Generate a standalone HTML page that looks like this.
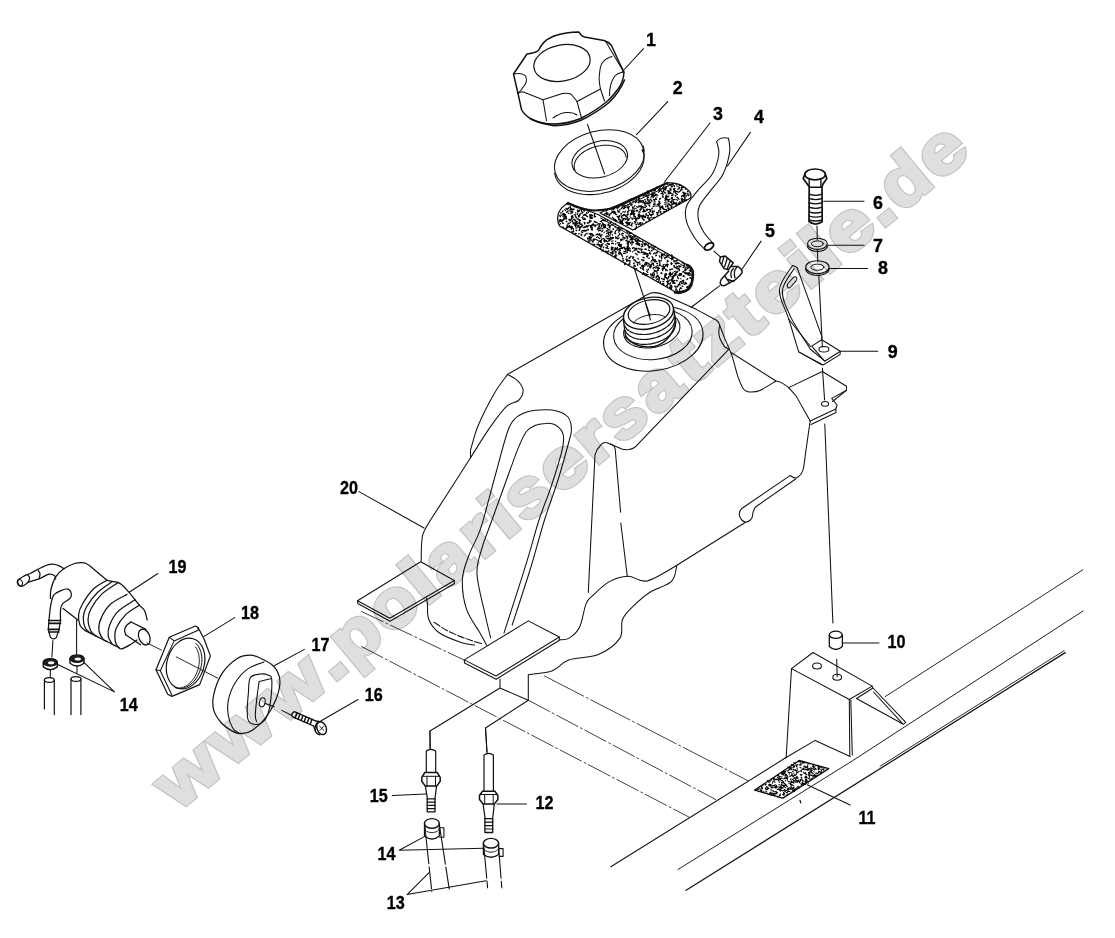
<!DOCTYPE html>
<html><head><meta charset="utf-8"><title>Fuel tank parts diagram</title>
<style>
html,body{margin:0;padding:0;background:#fff;}
body{width:1115px;height:938px;overflow:hidden;font-family:"Liberation Sans",sans-serif;}
svg{display:block;}
svg text{font-family:"Liberation Sans",sans-serif;font-weight:bold;}
</style></head><body>
<svg width="1115" height="938" viewBox="0 0 1115 938">
<rect width="1115" height="938" fill="#fff"/>
<g fill="none" stroke="#111" stroke-width="1.05" stroke-linecap="round" stroke-linejoin="round">
<path d="M361.5,611.5 L464,660" stroke-dasharray="24 3 2 3" stroke-width="0.8"/>
<path d="M361.5,646.5 L688.8,817" stroke-dasharray="24 3 2 3" stroke-width="0.8"/>
<path d="M528.3,700.2 L715.7,799.5" stroke-dasharray="24 3 2 3" stroke-width="0.8"/>
<path d="M544.5,676 L748,780.7" stroke-dasharray="44 3 2 3" stroke-width="0.8"/>
<path d="M500,679 L500,688 L430,731 L430,749 M528.3,674.5 L528.3,700.2 L485.5,728 L487,753 M500,688 L528.3,700.2"/>
<path d="M610.8,866.8 L785.6,757.8 L815.2,740.4 L850.2,756.5"/>
<path d="M885.2,696.6 L1083,569.7" stroke-width="0.9"/>
<path d="M678,869.5 L852.9,760.5 L1083,611" stroke-width="0.95"/>
<path d="M686.1,890.3 L1065.2,652.6" stroke-width="1.25"/>
<path d="M880,766.3 L1064.2,650.6" stroke-width="0.9"/>
<path d="M791.5,668.6 L813,652.5 L872.2,686.1 L849.3,699.5 Z" fill="#fff"/>
<path d="M791.5,668.6 L786.1,758.2 M849.3,699.5 L849.8,756 M850.8,700 L852.3,755"/>
<path d="M856.5,698.5 L873,688 L905.8,722.4 L903.3,724.3 Z M873,688 L872.2,686.1 M873.5,692 L903.3,724.3"/>
<ellipse cx="817" cy="665.9" rx="4.4" ry="3" />
<ellipse cx="837.2" cy="677.2" rx="4.4" ry="3" />
<path d="M836.7,659.2 L837.2,676.7"/>
<path d="M829.3,635 L829.3,646.5 Q835.8,652.5 842.4,646.5 L842.4,635" stroke-width="1.3"/>
<ellipse cx="835.8" cy="634.8" rx="6.5" ry="3.6" stroke-width="1.3"/>
<path d="M824.8,424 L832.9,623"/>
<path d="M842.6,643 H878.9"/>
<path d="M754.7,790.1 L799.1,760.5 L828.7,768.6 L782.9,798.2Z" stroke-width="1.4"/>
<path d="M788.2,781.6l1.2,-0.1M792.3,782.6l-0.9,0M761.4,791l0.5,-1.1M803.1,783.7l-1,-1.2M787.3,792.3l0.1,0.3M791.7,785.5l-0.1,-0.5M811.4,775.6l1,-0.3M812.3,770.7l-1.2,-0.4M813.7,767.2l0.2,-0.1M768.8,788.1l-1,0.3M777.2,793.9l-0.8,-0.3M811.9,772.9l-0.6,-1M772.7,783.2l-0.4,-0.1M772.3,787.1l-0.7,0.8M798.8,771.6l-0.9,0.5M800.2,771.1l1.2,-0.7M797,765.5l-0.4,0.9M805.9,782.5l-1,-1.1M790.4,788l-0.5,1.2M780.7,786.3l1.1,0.9M785.6,790.3l1,0.2M800.9,774.9l0.2,0.3M808.6,775.1l0.7,0.2M787.3,792.1l-1.2,0.6M790.3,769.2l0.6,-0M777,786.1l-0.8,-0.8M787.4,794.1l-0.5,0.4M797.8,772.4l-1,-0M788,770.9l-0.8,-0.2M801,779.1l-0.5,0.8M807.1,782l-0.5,0.7M816.1,769.5l-1,-1.1M801.3,777.3l0.4,0.4M805.4,768l-0.1,-0.8M807.5,767.3l-0.6,-0.4M806.3,780.1l0.3,0.6M783.8,790.4l1.1,-1M782.6,781.9l1.1,0.7M802.9,768.2l0.6,0.8M770.5,794.4l1.3,1.1M794.4,790.3l-0.5,1M818,773.6l-1.2,-0.1M795.4,789.5l-0,-1.1M813.9,767l-0.5,0.7M792.9,787.8l1,0.5M771.1,780.4l-0.6,0.5M802,780.2l1,0.1M777.8,774.9l1,1M770.1,792.6l1.3,0.1M797.1,768.1l0.1,0M799.5,761.5l1.3,0M784.3,790.7l0.2,-0M805.8,763l0.1,-0.2M774.6,778.3l-1,-0.2M790,772.5l-0.9,0.3M805.5,772.6l-0.4,0.3M762.5,788.1l-1.1,0M793.9,777l-0.3,-0.2M793.9,766.5l-0.8,0.3M801.9,780.5l1,0.3M818.1,769.3l0.7,0.7M821.5,772.4l-0.5,1M772.4,787.9l-0.7,-1M816.3,776.4l0.8,-0.9M784.5,786.3l-1.4,-0.7M792.1,789.1l0,0.4M795.5,779.9l0.2,-0.8M788.9,789.3l-0.5,-0.1M792.8,776.7l0.3,-1.2M809.4,775.8l-0.9,-0.8M801.3,775.8l0.3,0M773.8,794.9l0.7,0.7M815,775.8l1.1,0.9M811.3,775.8l0.6,-1M780,778.2l-1.4,-0.3M802,784l-0.8,1.1M804,773.2l0.4,0.2M794.1,775.2l1.4,0.3M773.3,794.6l0.1,0M799.9,762.7l1.2,-0.2M793.7,783l-0.4,-0.5M803.2,781.6l-0.6,0.5M766.3,789l-0.3,1M786.5,778.5l1.3,-0.6M808.2,778.2l1.3,0.8M799.4,764.8l0.3,-0.1M793.8,765.2l-0.2,0.4M788.4,770.4l0.2,-0.2M809,769.5l-1.1,0.9M805.4,781.8l0.3,0.3M810.4,767.7l-0.7,1.2M800.8,764.4l0.1,-1M761.1,786l0.1,0.3M782.3,778.5l-0.8,-0.4M811.6,768.5l-0.2,-0.6M814.6,774.4l0.4,1.2M778.8,781.2l0.7,1M786.3,774.4l-1.1,0.9M796.5,778.8l0.5,-0.5M770.5,785.5l-1.2,-0.5M781.2,787.9l-0.4,-0.9M807.2,782l1.2,1.1M814.1,772l-0.5,-0.2M781.8,774.2l-0.3,-0.3M769.1,781.8l0.8,0.1M767.8,789.1l1.1,-0.5M795,781.9l1.3,0.4M795.2,790.2l-1.2,-1M765.3,788.6l0.4,-0.6M771,789.4l0.1,0.6M783.9,773.2l1.3,0.4M791.2,780.8l0.6,0.5M793.5,787.3l0.8,-0.2M763.2,784.9l0.8,-0.8M772.1,787.5l0.3,-0.7M767.5,789.1l-0.5,0.1M774,794l1.2,-0.4M790.4,768.8l-1.3,1.1M814,775l0.1,0M803.4,769.5l-1.4,-0.1M782.2,790.5l0.6,0.3M774.4,780.7l-1,0.6M807.7,764.2l-0.1,-0.1M818.1,771.9l0.8,-0.2M815.8,768.4l0.1,0.1M766.4,791.9l-0.5,-0.5M789.3,787.5l-0.4,0.4M807.2,769.5l0.2,-0.1M813.9,768.3l0.3,-0.5M782.5,780.8l-0.6,-0.4M783.7,785.6l-0.7,-0.7M808.8,772.9l1.2,0.2M808.3,773l0.9,-1M792.6,784.9l0.7,0.8M783.3,773l-0.2,-1.2M784.4,786.9l1.3,0.7M803.6,783.4l-1.3,-0.4M780,785l-1.1,-0.3M792.4,790.2l0.9,0.3M766.4,789.4l1.1,0.1M780.8,779.4l-1,0.5M801.1,768l-1.2,-0.6M797.4,786.8l-0.5,1M781.4,778l-1.1,1.1M794.9,781.6l0.2,-0.6M763.8,791.6l-0.6,1M772.5,782.1l0.9,-0.8M795.2,763.4l-1.3,-0.8M803.4,772.1l0.5,0.6M782.9,782.8l0.9,-1.2M796.8,767l0.1,-0.6M796.7,773l0.4,-1.1M804.4,766l1.3,0.2M789.5,776l0.3,0.5M785,776.9l0.2,1M793.6,780.3l-0.2,1M810.3,772l0.3,-1M791.9,775.5l-1.3,0.5M793.6,769.5l-0.5,-0.3M785.9,790.9l-0.8,0.6M762,790.4l-1.1,0.1M784.1,773.9l0.2,-1.1M777.5,779.3l1.2,1.1M789.7,768.3l-0.6,1M821.1,767.9l0.9,-0.4M789.7,767l1.1,1.2M769.6,784.3l-0.9,0.9M808.4,772.3l1.1,0.9M807.5,765.6l0.5,1.1M807.3,767.9l-0.9,-0.6M782.3,785.5l1.1,0.2M775.2,784.6l-1.1,1.2M787.3,780.4l0.1,-1.1M799.1,771.2l-0.7,0.7M810.6,769.8l-0.6,0.1M788.9,788.8l-0.3,1M791.7,767.3l0.2,0.3M781.3,785.3l0.8,0M805.3,780.1l1.3,-0.8M812.4,766.7l0.3,-0.6M787.3,789.6l0.8,0.7M772.2,778.9l-0.8,0.2M798.9,787.4l0.2,0.9M786.9,777.2l-0.7,0.7M796.8,781l0.8,-0.6M800.7,780.3l-0.7,0.2M761.2,791.4l-0.9,-0.6M766.5,786.5l0.9,0.7M790.9,789.2l1.4,-0.9M788.4,788.6l-1.3,-0.6M783.8,771.7l-0.2,-1M795.5,769.6l-0.1,1M781.6,773.2l1.3,0.3M802.8,762.7l-0.4,0.5M783.8,792.3l-0.3,0.7M768.3,781.2l-0.9,-0.7M777.5,777.4l1.4,0.4M818.5,768.2l-0.3,-1M805.9,774.2l-0.6,-1.2M783.8,795.3l0.6,-0.6M778.5,775l-1.2,0.9M778.8,789.6l0.1,-1.1M798.8,761.7l-0.5,-0.2M795,765.6l0.6,-0.6M775.4,787.4l-0.3,-0.3M818.8,769l-0.6,-0.4M770.7,786.5l0.5,1.1M819,769.3l0.4,-1M786.4,775.3l-1.2,-0.3M779,779.2l-0.6,-0.8M784.5,778.4l-0.9,0.4M780,776.4l-1,0.2M806.6,781.4l0.6,-1.1M783.7,774.2l-1.2,-0.2M798.1,778.2l-0.5,-0.6M774.1,785.7l-0.9,-0.1M781.5,782.2l1.2,0.7M801.1,783.9l-0.2,-0.2M775.1,791.8l1.1,-0.3M805,769.3l-1.4,0.1M791.2,785l0.1,0.3M780.4,793.9l-0.5,0.5M766.5,783.9l-0,0.2M792.7,765.3l-1.2,-1M762.3,787.1l-1.1,-0.1M811.8,778.6l-0.9,0.9M773.5,779.6l0.8,-0.3M807.7,770l0.6,-0.4M779.4,789.1l1,0.8M796.7,776.4l0.6,0.3M804.2,769.2l-0.9,-1.2M805.6,776.3l0.4,-0.2M775.9,788.1l1.4,-0.9M794.8,778.7l-0.4,-0.5M806.1,781.1l0.8,-0.8M823.8,770l-0,-0.9M796.6,765.9l0.4,-0.5M820.8,772.2l-1.2,-0.8M769.7,793.2l-0,-0.2M814.4,775.4l-1.2,0.1M803.3,784l-0.6,1.1M787.5,791.9l0.6,-0.8M781.3,788.9l-0.5,0M793.7,791l0.8,0.6M784.2,790.8l0.9,0.6M806.9,769.9l1.1,-1.1M797.4,769.1l-0.3,-0.3M781.7,784.6l-0.4,-0.5M821.7,772.6l-1.1,-0.4M809.6,768.5l0.7,0.1M805,767.2l-1.1,-0.9M780.6,776.7l-1.4,0M784.5,772.6l0.1,1.1M769.8,793.7l-0.5,0.6M806.9,767.2l-0.6,0.4M801.7,774.8l0.4,-0.7M792.1,781.9l-1.1,0.8M805.7,777.6l0.5,-0.2M799.1,782.1l0,-1.1M801.1,777.3l0.3,0.2M809.3,772.3l0.7,1.2M784.5,793.2l-1,1.2M791,769.3l1,0.4M773.3,790.9l-0.1,0.1M818.8,767.9l-0.6,0.3M772.6,790.7l1,0.6M813.7,766.2l-0.4,-1M783.5,792.5l0.3,1M770,784.2l1.1,0.5M769.3,785.7l-0.2,-1.2M801.3,771l0.3,0.5M806,778.1l-1,-0.9M809.2,774.1l-0.5,-0.2M765.5,784.3l-0.2,0.8M785,777.7l0,1.1M780.3,787l-0.7,0.2M775.8,793.4l-0.6,0.9M804.8,777.7l1.2,-0.3M785.7,771.1l-0.2,1.1M776.4,786.7l0.5,-0.6M821,770l-0.2,-0.4M798.4,781.1l-1.1,1M782.4,787.8l0.5,-0.4M789.4,774.1l-0.1,-0.4M804.3,783.3l1.3,1.1M784.4,785.2l-0.8,1.2M809.6,763.6l-0.9,0.4M773.5,791.1l0.6,0.7M794.4,780.6l-1.1,0.7M777,779.6l-1.1,0.2M792.6,771.6l0.8,-0.6M796,777.8l1,-0.9M817.6,766.3l1.3,0.1M784.8,783.6l1,1.1M766.1,791.4l0.7,0.5M779,778.9l0.4,0.9M783.9,771.8l0.7,-0.6M781.9,776.7l-0.1,-0.3M786.6,777.5l-1.3,0.8M795.2,775.6l-0.8,-1M782.2,772.4l-0,-0.6M810.2,778.9l-1.4,-0.2M781.8,783l-0.4,-0.5M799.8,782.7l-0.5,-0M792.9,788.9l-1.3,-1M813.6,776.5l1,-0.2M775.8,786.1l-1.2,1.2M816.2,772.9l-0.5,0.8M758.9,789.3l-1.3,0.3M802,761.3l1.2,0.6M809.2,776.3l0.5,1.2M812.5,777.1l0.7,-0.3M787.8,777l-1.1,-0.4M763.3,791.9l0.5,0.1M777.6,796.5l0.2,1M786.7,774.7l0.5,1M791.2,786.5l-0.3,0.7M762.5,788.5l-0.9,0.2M798.5,780.1l-0.3,0.2M817,774l0.2,-0M806.3,769.3l-0.7,0.6M797.2,770.2l-1.2,0.8M782.6,787.5l-0.2,0.3M790.7,769.2l0.7,-1M777.4,792.4l-1.3,0.5M796.7,781.3l-0.5,-0.8M812.7,768.7l-0.8,0.1M799.8,765.1l0.7,0.2M805.7,774.2l1.3,0.5M776.2,792.8l0.6,-0.6M794.5,770.1l-0.6,-0.6M775.2,779.7l1,-0.8M799.8,781l0.7,0.1M812.1,770.3l-1.2,1M781.5,790.2l-0.7,-0.1M782.1,788l1.2,0M796.6,773.6l-0.7,1.1M803.3,763.2l1.1,-1M796.5,765l1.4,-0.5M804,763.1l-1.3,0.2M793.7,767.5l0.1,-0.3M791.6,767.9l0.6,-0.2M790.7,781.5l1.3,0.1M779.5,787l1.2,1.1M798.4,786.4l0.3,0.3M793.2,782.4l0.7,0.7M816.4,775.9l-0.5,-0.4M755.8,789.5l-0.7,0.2M793.6,773.1l0.5,-0.1M772,793.7l-0.9,-0.8M773.5,778.6l0.8,-0.4M772.3,785.2l-0.7,0.1M773.6,793.6l-0.9,-0.6M760.5,789.3l-0.7,-0.7M782.1,773.9l1.2,1.2M779.7,790.3l-0.3,-0.5M789.9,791.4l-1.4,-0M769.9,793.6l1.3,1M780,795.6l-1,0.5M824.7,767.8l-1,0.4M774.9,795.9l-1.2,-0.8M794.7,781.9l0.7,0.1M777.6,789.2l1.2,0M796.8,771.6l0.8,1.1M788.7,783.2l1,-0.1M811.1,775.6l-1.3,-0.8M767.5,788.3l-0.8,-1.2M771,790.6l-0,0.4M789.1,767.4l-1.4,-0.5M800.5,774.4l-0.1,0.3M785.6,780.9l-0.1,-0.4M822.3,769.3l1.2,0.8M820,766.6l0,1.2M808.2,769.4l0.2,-0.8M761.9,786.4l-0.4,0.1M792.8,774.8l-1.4,-0M774.6,782.1l0.4,-0.1M790.4,784.7l1.3,-0.5M813.9,769.3l0.9,0.7M773.5,794.5l0,-0.2M791,778.7l-0.6,0.8M791.9,773.4l-0.8,-0.7M814,767.1l0.9,-0.5M772.8,795.2l-1.3,0M780.1,790.3l0.3,1M819.2,772.2l-0.9,0.5M800.8,765.2l0.6,-1.1M802,779l-0.3,-0.4M813.6,769.1l0.4,0.7M806.1,779.9l-0.5,-0.5M768.6,784.9l0.5,1.1M779.2,795.5l1.2,-0.5M793.4,778.9l-1.3,0.9M794.3,778.3l0.7,-0.6M769.4,782.4l-0.7,-0.4M781,780.4l1.3,0.3M785.4,775.8l-0.7,-0.1M786.7,786.3l0.7,0.1M821.5,770l0.1,1.2M793.8,767.6l0.7,-1.1M774.9,787.6l0.6,-0.4M806.9,777.7l-0.2,-0.9M806.1,777l-1,-0.2M797.1,788.6l-0.3,0.4M805.1,783.7l-1.3,0.5M790.7,782.7l-0.5,1.2M771,793.1l0,-0.2M784.2,793.9l-0.7,0.7M807.1,777.4l-0.4,-0.2M788.2,772.4l0.3,-0.2M777.2,789.6l-0.1,-0.1M782.5,794.4l1.3,0.7M784.4,785.8l0.7,-0.5M786.9,785.1l-0.8,0.6M780,787.3l-1.4,-0.2M811.4,770.3l0.3,-0.7M783.7,782.8l0.6,0.6M773.3,787.1l0.2,0.1M812.5,772.7l0.6,1.1M775,781.9l0.1,-0" stroke-width="1.05" stroke="#000"/>
<path d="M807.2,784.7 L850.2,804.9"/>
<path d="M800,800.5 l0.8,2.4" stroke-width="1.3"/>
<path d="M507.6,374.4 L636,297 L645,292.5 L655,293 L681,301.5 L716,317.7 L721.5,326 L727,347 L735,371.5 L743,386 L754,390.5 L775,381 L788.7,387.6 L822.3,371.5 L846.5,386.3 L846.5,390.3 L831.7,398.4 L837.1,405 L835.8,409 L810.2,421 L803.5,468 L797,477.5 L745.5,522.2 L676.9,565.3 L671.5,581.4 L650,592.2 L633.8,605.6 L622.5,619.5 L619.8,638.4 L598.3,654.5 L568.7,659.9 L552.5,670.7 L528.3,674.7 L496,676 L464.3,659.9 L474.5,645.1 L461,642.4 L439.5,633 L428.8,619.5 L427.4,603.4 L389.8,618.2 L357.5,600.7 L420.7,561.7 L421.5,541.8 L425.6,528.3 L470.5,450.3 L478,426 L494,394Z" fill="#fff" stroke="none"/>
<path d="M507.6,374.4 L640,299 Q646,294.8 651,293 Q657,291.8 663.2,294.4 L696.7,309.6 L716.5,320.3 Q719,322 719.6,325"/>
<path d="M719.6,325 C720.4,327 722.2,332 724.2,337.1 C726.2,342.2 729.5,348.8 731.8,355.4 C734.1,362 736.1,371.4 737.9,376.7 C739.7,382 741.1,385 742.5,387.4 C743.9,389.8 744.7,390.2 746,391 C747.3,391.8 747.8,392.1 750.1,392 C752.4,391.9 755.7,392.2 760,390.4 C764.3,388.6 773.3,382.6 776,381"/>
<path d="M719.6,325 C719.5,326.2 718.8,329.8 718.8,332 C718.8,334.2 718.9,335.6 719.8,338 C720.7,340.4 722.7,344.3 724.2,346.2 C725.7,348.1 728,348.8 728.7,349.3"/>
<path d="M731.5,352.8 L776,381 Q782,382 788.7,387.6"/>
<path d="M788.7,387.6 C789.9,389 793.8,392.9 796,396 C798.2,399.1 799.6,402.3 802,406.5 C804.4,410.7 808.8,418.6 810.2,421"/>
<path d="M810.2,421 C810,422.7 809.4,426.2 808.7,431 C808,435.8 806.9,443.8 806,450 C805.1,456.2 804.3,464 803.5,468 C802.7,472 802.2,472.3 801,474 C799.8,475.7 797.8,477.7 796,478 C794.2,478.3 791,476 790,475.6"/>
<path d="M788.7,387.6 L822.3,371.5 L846.5,386.3 L846.5,390.3 L831.7,398.4 L837.1,405 L835.8,409 L810.2,421"/>
<path d="M846.5,390.3 L832.5,401.5 M835.8,409 L836,412.5 L811,424.5"/>
<ellipse cx="825" cy="403.8" rx="3.6" ry="2.4" />
<path d="M728.7,349.3 L638,444.1 Q634.5,448.5 629,449.6 Q625,450 621.9,449 L607.1,442.8 Q603,441.5 600.4,445.5 Q596.5,449 595,454.9 L588.3,592.4"/>
<path d="M610.5,444 Q614.5,445 615.2,449 L620.6,512.2 M620.8,523 L627.3,576.5"/>
<path d="M507.6,374.4 C505.3,377.7 498.9,385.4 494,394 C489.1,402.6 481.9,416.6 478,426 C474.1,435.4 471.8,446.2 470.5,450.3"/>
<path d="M507.6,374.4 C508.7,375 512,376.6 514,378 C516,379.4 518.2,380.8 519.7,383 C521.2,385.2 523.4,388.1 523.2,391 C523,393.9 521.2,397.9 518.4,400.5 C515.6,403.1 511,402.2 506.3,406.7 C501.6,411.2 496,418.9 490,427.4 C484,435.9 473.8,452.7 470.5,457.8 L470.5,450.3"/>
<path d="M470.5,457.8 C466.8,463.7 455.5,481.2 448,493 C440.5,504.8 430,520.2 425.6,528.3 C421.2,536.4 422.5,536.3 421.8,541.8 C421.1,547.2 421.3,557.8 421.2,561"/>
<path d="M486.6,645.1 C485.5,643.1 483.4,639 480,633 C476.6,627 469.3,617.8 466.4,608.8 C463.5,599.8 462,588.2 462.4,579.2 C462.8,570.2 465.9,563.5 469,555 C472.1,546.5 476.5,540.8 480.7,528.3 C484.9,515.8 489.5,496.1 494,480 C498.5,463.9 504,441.8 507.6,431.5 C511.2,421.2 512.5,421.2 515.7,418 C518.9,414.8 523,413.3 527,412 C531,410.7 535.7,410.3 539.9,410 C544.1,409.7 548.4,409.6 552,410 C555.6,410.4 558.7,411.4 561.4,412.6 C564.1,413.8 566.4,415.2 568,417 C569.6,418.8 570.2,421.1 570.8,423.4 C571.3,425.7 571.5,428.3 571.3,431 C571.1,433.7 571.7,431.3 569.5,439.5 C567.3,447.7 562.2,466.6 558,480 C553.8,493.4 549.2,505 544.5,520 C539.8,535 535.4,552.5 530,570 C524.6,587.5 515.2,615.8 512.2,625"/>
<path d="M490.7,638 C489.8,634 487.3,624.7 485,614 C482.7,603.3 477.5,585 477,574 C476.5,563 479.5,557 482,548 C484.5,539 488.2,530.7 492,520 C495.8,509.3 500.6,496.1 505,484 C509.4,471.9 514.8,456.4 518.4,447.6 C522,438.9 523.6,435.2 526.4,431.5 C529.2,427.8 531.9,426.9 535,425.5 C538.1,424.1 542.3,423.6 545.3,423.4 C548.3,423.1 550.8,423.3 553,424 C555.2,424.7 557.1,426 558.7,427.4 C560.3,428.8 561.7,430.5 562.5,432.5 C563.3,434.5 563.8,436.1 563.6,439.5 C563.4,442.9 563.5,445.1 561.4,453 C559.3,460.9 554.7,475.8 551,487 C547.3,498.2 543.2,506.9 539,520 C534.8,533.1 531.4,546.9 525.6,565.7 C519.8,584.5 507.6,621.8 504,633"/>
<path d="M426.5,598 C426.6,598.9 427,599.8 427.4,603.4 C427.8,607 426.8,614.6 428.8,619.5 C430.8,624.4 434.1,629.2 439.5,633 C444.9,636.8 455.2,640.4 461,642.4 C466.8,644.4 472.2,644.6 474.5,645.1"/>
<path d="M434.2,622.2 C436.2,623.5 442,627.8 446,630 C450,632.2 454.4,634 458.4,635.7 C462.4,637.4 466,638.6 470,640 C474,641.4 480.5,643.2 482.6,643.8" stroke-dasharray="7 2"/>
<path d="M559.3,639.7 C560.9,639.5 565.4,640.4 568.7,638.4 C572.1,636.4 576.5,633.4 579.4,627.6 C582.3,621.8 583.9,608.8 586.2,603.4 C588.5,598 589.2,598.9 593,595.3 C596.8,591.7 603.2,585.1 609,581.9 C614.8,578.7 621.6,576.5 628,576.3 C634.4,576.1 639.1,582.7 647.3,580.9 C655.4,579.1 672,567.9 676.9,565.3 L745.5,522.2"/>
<path d="M528.3,674.7 C532.3,674 545.8,673.2 552.5,670.7 C559.2,668.2 561.1,662.6 568.7,659.9 C576.3,657.2 589.8,658.1 598.3,654.5 C606.8,650.9 615.8,644.2 619.8,638.4 C623.8,632.6 620.2,625 622.5,619.5 C624.8,614 629.2,610.1 633.8,605.6 C638.4,601.1 643.7,596.2 650,592.2 C656.3,588.2 667,585.9 671.5,581.4 C676,576.9 676,568 676.9,565.3"/>
<path d="M790,475.6 L741.4,508.8 Q738.3,512 739.8,516.5 Q741.5,521 745.5,522.2 Q750.5,521.5 752.3,517 Q752.5,511 755.5,507 L796,478.8"/>
<ellipse cx="653.3" cy="338.6" rx="50.1" ry="32" transform="rotate(-8.7 653.3 338.6)" fill="#fff"/>
<ellipse cx="652.9" cy="334" rx="39.4" ry="25.5" transform="rotate(-5 652.9 334)" />
<ellipse cx="651.8" cy="330" rx="28.5" ry="17.5" transform="rotate(-11 651.8 330)" fill="#fff"/>
<path d="M623.3,319 L625.6,337 Q636,349 654,346.5 Q670,343 676,322 L673.3,307.5" fill="#fff" stroke-width="1.3"/>
<path d="M674.2,312.9 C674.2,313.2 674.4,314.2 674.4,314.8 C674.3,315.5 674.3,316.1 674.1,316.8 C674,317.5 673.7,318.2 673.5,318.8 C673.2,319.5 672.8,320.2 672.4,320.9 C672,321.5 671.6,322.2 671,322.9 C670.5,323.5 669.9,324.1 669.3,324.8 C668.6,325.4 667.9,326 667.2,326.6 C666.5,327.2 665.7,327.7 664.8,328.3 C664,328.8 663.1,329.3 662.2,329.8 C661.3,330.3 660.4,330.7 659.4,331.1 C658.4,331.6 657.4,331.9 656.4,332.3 C655.4,332.6 654.4,332.9 653.3,333.2 C652.3,333.5 651.2,333.7 650.2,333.9 C649.1,334.1 648,334.2 647,334.3 C645.9,334.4 644.9,334.5 643.8,334.5 C642.8,334.5 641.8,334.5 640.8,334.4 C639.8,334.4 638.8,334.3 637.9,334.1 C636.9,334 636,333.8 635.1,333.5 C634.3,333.3 633.4,333 632.6,332.7 C631.8,332.4 631.1,332 630.4,331.7 C629.7,331.3 629,330.9 628.4,330.4 C627.8,330 627.3,329.5 626.8,329 C626.3,328.4 625.9,327.9 625.6,327.3 C625.2,326.8 624.8,325.9 624.7,325.6" stroke-width="1.2"/>
<path d="M674.8,317.8 C674.8,318.1 674.9,319.1 674.9,319.8 C674.9,320.4 674.8,321.1 674.7,321.8 C674.5,322.4 674.3,323.1 674,323.8 C673.7,324.5 673.4,325.2 673,325.8 C672.6,326.5 672.1,327.2 671.6,327.8 C671,328.5 670.4,329.1 669.8,329.7 C669.2,330.3 668.5,330.9 667.7,331.5 C667,332.1 666.2,332.7 665.4,333.2 C664.5,333.7 663.7,334.3 662.8,334.7 C661.9,335.2 660.9,335.7 659.9,336.1 C659,336.5 658,336.9 657,337.2 C655.9,337.6 654.9,337.9 653.9,338.1 C652.8,338.4 651.8,338.6 650.7,338.8 C649.6,339 648.6,339.2 647.5,339.3 C646.5,339.4 645.4,339.4 644.4,339.5 C643.4,339.5 642.3,339.5 641.3,339.4 C640.3,339.3 639.4,339.2 638.4,339.1 C637.5,338.9 636.5,338.7 635.7,338.5 C634.8,338.2 634,338 633.2,337.7 C632.4,337.3 631.6,337 630.9,336.6 C630.2,336.2 629.6,335.8 629,335.4 C628.4,334.9 627.8,334.4 627.4,333.9 C626.9,333.4 626.5,332.9 626.1,332.3 C625.8,331.7 625.4,330.8 625.2,330.5" stroke-width="1.2"/>
<path d="M675.3,322.8 C675.3,323.1 675.5,324.1 675.4,324.7 C675.4,325.4 675.3,326 675.2,326.7 C675,327.4 674.8,328.1 674.5,328.7 C674.3,329.4 673.9,330.1 673.5,330.8 C673.1,331.4 672.6,332.1 672.1,332.8 C671.6,333.4 671,334 670.3,334.7 C669.7,335.3 669,335.9 668.3,336.5 C667.5,337.1 666.7,337.6 665.9,338.2 C665.1,338.7 664.2,339.2 663.3,339.7 C662.4,340.2 661.4,340.6 660.5,341 C659.5,341.5 658.5,341.8 657.5,342.2 C656.5,342.5 655.4,342.8 654.4,343.1 C653.4,343.4 652.3,343.6 651.2,343.8 C650.2,344 649.1,344.1 648.1,344.2 C647,344.3 646,344.4 644.9,344.4 C643.9,344.4 642.9,344.4 641.9,344.3 C640.9,344.3 639.9,344.2 639,344 C638,343.9 637.1,343.7 636.2,343.4 C635.3,343.2 634.5,342.9 633.7,342.6 C632.9,342.3 632.2,341.9 631.5,341.6 C630.8,341.2 630.1,340.8 629.5,340.3 C628.9,339.9 628.4,339.4 627.9,338.9 C627.4,338.3 627,337.8 626.6,337.2 C626.3,336.7 625.9,335.8 625.8,335.5" stroke-width="1.2"/>
<ellipse cx="648.5" cy="313.3" rx="25.5" ry="15.4" transform="rotate(-13.8 648.5 313.3)" fill="#fff" stroke-width="1.4"/>
<ellipse cx="649" cy="312" rx="21.2" ry="11.8" transform="rotate(-12.6 649 312)" stroke-width="1.2"/>
<path d="M633.5,323.4 C633.6,323.3 633.7,322.9 633.9,322.6 C634.1,322.3 634.3,322 634.5,321.8 C634.7,321.5 635,321.2 635.3,320.9 C635.6,320.7 635.9,320.4 636.2,320.1 C636.5,319.9 636.9,319.6 637.3,319.3 C637.7,319.1 638.1,318.8 638.5,318.6 C638.9,318.3 639.4,318.1 639.9,317.9 C640.3,317.7 640.8,317.4 641.3,317.2 C641.8,317 642.4,316.8 642.9,316.6 C643.4,316.4 644,316.3 644.5,316.1 C645.1,315.9 645.7,315.8 646.2,315.6 C646.8,315.5 647.4,315.4 648,315.2 C648.6,315.1 649.1,315 649.7,314.9 C650.3,314.9 650.9,314.8 651.5,314.7 C652.1,314.7 652.7,314.6 653.3,314.6 C653.8,314.6 654.4,314.5 655,314.5 C655.5,314.5 656.1,314.6 656.6,314.6 C657.2,314.6 657.7,314.7 658.2,314.7 C658.7,314.8 659.2,314.8 659.7,314.9 C660.2,315 660.7,315.1 661.1,315.2 C661.5,315.3 662,315.5 662.4,315.6 C662.8,315.8 663.1,315.9 663.5,316.1 C663.8,316.2 664.2,316.4 664.5,316.6 C664.8,316.8 665.2,317.1 665.3,317.2" stroke-width="1"/>
<path d="M645.5,303 L650.5,320"/>
<path d="M420.7,561.7 L454.3,580.5 L389.8,618.2 L357.5,600.7 Z" fill="#fff"/>
<path d="M357.5,600.7 L357.8,603.5 L390,621.3 L454.5,583.5 L454.3,580.5"/>
<path d="M528.3,620.9 L559.3,637 L496,676 L464.3,659.9 Z" fill="#fff"/>
<path d="M464.3,659.9 L464.5,663 L496.2,679.2 L559.5,640.2 L559.3,637"/>
<path d="M359,491.6 L424,528"/>
<path d="M513.5,74 L527,54 Q534,53.5 538.5,50.5 Q543,41 550,38 L554,36 Q566,32 579,32 Q581,36 584.5,37 L604,40.5 Q609,42 611.5,45.5 L619.5,63 L624,72 Q623.5,82 618,89 Q612,97 607.5,101 Q595,111.5 580.5,118.5 Q567,124 554,124 Q541,124 532,119.5 Q524,115 521.5,109.5 L518,93.5 Z" fill="#fff" stroke-width="1.45"/>
<ellipse cx="562" cy="63" rx="28.5" ry="18" transform="rotate(-11 562 63)" stroke-width="1.2"/>
<path d="M513.5,74 Q522,72.5 525.5,76 Q528,81 524,86 Q521,90.5 518,93.5"/>
<path d="M518,93.5 Q520,91.5 523.5,92 L543,99.8 L562.5,93.5 Q568,92.5 571.5,94.5 L577,101.5 L600.5,89"/>
<path d="M600.5,89 Q598.5,80 599.5,74 Q600,66 602.5,62.5 Q606,58 612,56.5"/>
<path d="M624,72 Q616,73 613.5,78 Q609.5,85 609.5,95.5"/>
<path d="M543,99.8 L546.5,120.5 M577,101.5 L581.5,118 M600.5,89 L604.5,101"/>
<path d="M553,118 Q560,113 566,112.5 Q573,112 577,115"/>
<path d="M530,118.5 Q541,124 554,125.6 Q568,125.6 581.5,120 Q597,112.5 609,102.5 Q619,93 624.5,80" stroke-width="1.6"/>
<path d="M606,42 L622.5,70"/>
<path d="M587.5,124.5 L604.6,174"/>
<ellipse cx="599.3" cy="160.6" rx="45.7" ry="29.5" transform="rotate(-15 599.3 160.6)" fill="none"/>
<path d="M642.6,149.5 C642.8,150.2 643.5,152.1 643.8,153.4 C644,154.8 644.1,156.2 644.1,157.5 C644.1,158.9 643.9,160.3 643.6,161.8 C643.2,163.2 642.8,164.6 642.2,166 C641.6,167.4 640.8,168.9 640,170.2 C639.1,171.6 638.1,173 637,174.3 C635.9,175.7 634.7,177 633.3,178.2 C632,179.5 630.5,180.7 629,181.8 C627.4,183 625.8,184.1 624.1,185.1 C622.4,186.1 620.5,187.1 618.7,188 C616.8,188.9 614.9,189.7 612.9,190.4 C611,191.1 609,191.8 606.9,192.3 C604.9,192.8 602.8,193.3 600.8,193.7 C598.7,194 596.6,194.3 594.6,194.4 C592.6,194.6 590.5,194.7 588.5,194.6 C586.5,194.6 584.5,194.5 582.6,194.3 C580.7,194 578.8,193.7 577.1,193.3 C575.3,192.9 573.5,192.4 571.9,191.8 C570.3,191.2 568.7,190.5 567.3,189.7 C565.9,188.9 564.5,188.1 563.3,187.2 C562.1,186.2 560.9,185.2 560,184.2 C559,183.1 558.1,182 557.4,180.8 C556.7,179.6 556.1,178.3 555.6,177.1 C555.1,175.8 554.8,173.8 554.7,173.1"/>
<ellipse cx="599.8" cy="159.3" rx="28.3" ry="17.9" transform="rotate(-14 599.8 159.3)" />
<path d="M574.9,170.1 C574.8,169.7 574.4,168.6 574.3,167.9 C574.2,167.2 574.2,166.4 574.2,165.6 C574.2,164.9 574.4,164.1 574.6,163.3 C574.8,162.5 575.1,161.7 575.5,160.9 C575.8,160.1 576.3,159.4 576.8,158.6 C577.3,157.8 577.9,157.1 578.6,156.3 C579.2,155.6 580,154.9 580.8,154.2 C581.6,153.5 582.4,152.8 583.3,152.2 C584.3,151.6 585.2,151 586.2,150.4 C587.2,149.8 588.3,149.3 589.4,148.8 C590.5,148.4 591.6,147.9 592.8,147.5 C593.9,147.1 595.1,146.8 596.3,146.5 C597.4,146.2 598.6,145.9 599.8,145.8 C601,145.6 602.2,145.4 603.4,145.3 C604.6,145.3 605.8,145.2 606.9,145.2 C608.1,145.3 609.2,145.3 610.3,145.5 C611.4,145.6 612.5,145.8 613.5,146 C614.6,146.3 615.6,146.6 616.5,146.9 C617.4,147.2 618.3,147.6 619.1,148 C620,148.5 620.7,149 621.4,149.5 C622.1,150 622.7,150.6 623.3,151.1 C623.8,151.7 624.3,152.4 624.7,153 C625.1,153.7 625.4,154.4 625.7,155.1 C625.9,155.8 626.1,156.9 626.2,157.3"/>
<path d="M642,150 l1.6,3.2 M643.3,146 l1,5"/>
<path d="M600,213 L667,183 Q680,181.5 689,191 Q692,195 690.5,198 L633,230 Z" fill="#fff" stroke-width="1.3"/>
<path d="M621.6,208.6l-0.4,0.2M676,205.4l0.4,-0.8M647.5,217.8l0.5,-1M635.9,220.6l-0.2,1M679.8,187.6l-1,-0.7M656.9,197.1l0,-0.3M631.9,210.5l0.2,1M661,190.7l1,1.1M664.8,192.9l0.9,0.2M626.7,219.1l1,-1.1M665.2,198.6l1.1,1.2M655.4,190.3l-1.3,0.9M681.4,200.8l-0.1,0M658.5,211l0.2,0.3M639.2,216.9l-0.7,-0.5M637.7,210.3l-1.3,0.3M657,204.9l0.5,-0.4M622.8,204.4l0.3,-0.4M633.5,211l-0.6,-0.3M670.1,184.3l0.2,0.6M673,194.2l-0.9,-0.2M663.4,187.8l-0.5,-0.4M675.7,203.6l1,-0.8M630.6,213.6l1.1,-0.1M648.1,192l0.9,0.8M673.2,199.2l-1,-0.5M672.1,195.7l-0.4,-0.2M638.1,202.2l1.2,-0.8M684.2,193.4l0.7,0.8M660.2,207.4l-0.6,-0.4M653.5,196.5l0.9,-1.1M660.2,207.7l-0.2,1.1M655.6,199l-0.7,0.9M643.3,219.8l-0.4,-0.7M615.6,220.2l1.2,0.7M624.4,207.8l-0.2,-0.1M631.9,213.4l0.2,-0.3M611.2,209.1l0.6,-0.3M633.9,211.4l0.8,-0.3M639.2,200.5l-0,0.5M638.2,215.6l-0.1,-0.6M648.7,215.7l-1.2,-0.2M638.7,224.3l1.2,-0.3M623.8,204.8l-1.1,0.8M666.6,209.5l-1.1,0.2M670.3,185.1l-1.1,-1M679.9,191.4l-1.3,0.8M672.5,184.7l0.7,0M664.9,188l0.7,1M622.7,212l0.7,-0.3M633.4,201.6l-0.4,-0.2M667.9,190.5l0.5,0.6M661.2,207.3l-0,0.3M681.5,190l-1.1,0.6M640.2,216.8l-0.9,-0.6M618.1,210.5l-0.5,-0.6M626.9,216.2l-0.2,0.8M653.1,195.6l-0.8,-1.1M643.5,201l-0.9,-0.3M629.2,219.4l-1,1.2M643.5,211.2l-0.1,0.8M643.7,216.9l1,-0.2M621.3,216.7l0.5,1.1M677.5,194.4l-0.9,-0.6M617,216.1l1,1M623.2,223.7l-0.5,-0.2M666.2,187l-1.1,0.8M652.7,214.7l-1.4,-0.4M639.6,205.8l-0.8,0.2M624.9,214.3l-1.1,0.9M682.5,187.6l1.2,-0.3M626.8,214.8l0.4,0.7M624.1,218.4l1.3,0.4M644.8,199.6l0.6,0.4M651.4,191.6l0.4,0.3M659.5,188.8l1.2,-0.9M630.1,216.9l0.3,0.1M658.8,204.5l-0.5,-0.8M668.5,208.5l0.7,-0.3M679.2,185l0,-0.6M669.8,199.6l-0.5,-0.2M649.2,219.3l-0.4,0.8M637.8,217.9l0.9,0.6M653.7,189.9l-0.3,-0.7M647.9,209.7l-0.8,-0.6M671,184.4l0.8,0.9M650.2,210.4l0.4,1.1M662.3,197.1l1,-0M654.6,217.2l-1.4,0.6M660.1,206.1l0.1,-0.1M617.6,207.9l-1.3,0M658.7,203.9l0.2,1.1M681,189.4l0.8,0.3M629.3,223.9l0.5,-0.9M667.2,199.1l0.9,1M678.2,203.5l0.7,-0M663.5,208.3l-0.2,0.4M627.7,204.8l0.7,-0.2M665.3,200.2l-0.4,0.1M654.2,193.5l-1.4,-0.7M671.1,189.7l-0.1,-0.7M640.7,202.2l0.6,-1.1M636.6,201.6l-1.3,1.1M656.5,199.3l-1.1,-1.1M666.1,195.9l0.8,-0.1M684.7,197.1l-0.7,-0.6M604.9,213.8l1.1,-0.7M627.7,211.5l1.3,-1M626.6,222.9l-1.1,-0.3M630.3,215l1.2,-0.8M683.9,200.1l-0.2,-0.6M670.8,205.6l-0.6,-0.8M665.4,211.5l0.6,-0.3M642.4,218.6l0.5,-1M621.5,222.7l0.4,0.9M630.3,200.4l-1.2,-0.2M607.3,213.5l-0.7,-1.1M613.9,213.3l0.2,-1.2M620,209.4l-0.2,0.7M648.6,191.8l-0.9,-1M675,188.3l-1.3,1.1M620.2,222l0.3,0.3M631.4,211.3l-0.2,-0.9M674,192.7l0.1,-0.1M666.1,186.6l-0.4,-0M666.8,202.9l0.4,0.3M648.6,202.7l1.3,1M670.2,202.1l1.4,1M665.6,196.8l0.1,0.3M625.1,203.3l-0.4,0.6M667.8,196.5l-1.1,-0.5M613.9,218.8l0.6,1.1M628.3,204.8l0.1,0.1M632.7,223.1l-0.6,-0.1M673.2,183.5l-1,0.1M669.9,204.9l1.3,0.7M639.3,198.9l-1.3,0.1M622.4,220.7l-0.2,-0.6M657,214.7l1.2,0.7M646.2,222.1l0.1,-0.5M637.6,207.4l-0.9,-0.8M649.7,202.2l-0.4,-0.1M672.9,204.3l1.3,-0.8M628.6,207.5l-0.2,0.8M652.2,208.8l-0,-0.5M609.3,214.4l-0.4,0M658.4,192.2l1.2,-0.8M634.8,221.9l-0.5,-0.5M628.8,201.4l-0.6,-0.9M647.8,217.9l0.9,0.3M643.8,195.6l0.1,-1.1M661.3,213.4l-1,-1.1M669,191.3l-0.9,0.8M679.4,185.3l1.3,0.1M632,226l-1.2,-0.7M689,194.6l-0.4,1.1M644,216.1l-0.5,-1.1M631.4,218.2l0.8,0.2M642.1,208.3l-0.2,0.1M675.6,192.4l0.3,1M677,191.4l1.3,0.8M679.2,188.4l-1.4,0.9M662.2,207.7l0.7,-1M649.1,203.7l-1,0.2M629.3,206.8l-0.4,-0.4M632.5,211.2l1.3,1M645.5,217.4l-0.4,0.3M641.1,205.5l0.1,0.9M640.1,212l-1.2,-0.2M639.1,223.8l0.6,-0.3M627.3,206.8l-0.3,-0.3M653.1,189.9l-0.8,-0.3M655.8,189.6l-1.2,-0.4M648.5,217.7l0.9,0.8M662,188.7l1.1,-0.3M675.6,191.6l-0.6,-0.3M646.5,203.3l0.4,0.4M643.6,202.8l1.1,0.8M630.1,202.7l0.2,0.9M608,213.1l-1.3,1M647.6,210l-1.2,-0.6M642.6,223.3l0.1,-0.5M648,192.5l-0.6,1M612.1,208l0.3,-0.3M639.3,197.7l-0.9,0.9M619.6,221.7l1.2,-0.9M683,201.7l-0.8,-0.8M634.9,223l0.9,-1.1M636.4,201.3l-0.9,-0.6M623.9,215.6l-0.4,-0.9M651.3,194.5l0.6,-0.7M660.9,211.6l-0.9,0.6M635.8,208.4l0.3,0.3M644.5,210.2l-0.6,1M662.3,193.4l0.9,1.2M665.1,198.9l0.7,0.2M640.6,206.2l0.2,0.8M669.1,209l-0.6,0.9M667.9,196.7l-1.4,0.4M666.7,199.5l-0.1,0.2M622.7,215.8l0.2,-0.3M610,209l-0.5,0.5M618.3,206.7l-0.9,-1M687.4,191.7l0.2,0M608.9,216.1l0.7,-0.7M629.7,218.8l-0.9,0.4M624.5,206.9l-0.4,0.9M667.6,206.7l0.5,-0.2M673,195.1l0.1,0.2M615.4,213.1l-0.8,0.6M650.5,218l1.2,-0.7M667.1,205.8l0.7,-0.8M649.4,214.4l0.3,-0.8M612.4,212.4l1.1,-0.9M671.3,201.4l-0.1,1.2M655.5,195.4l0.6,-1.2M625.6,215.8l-0.9,-1.1M647.1,198.4l1.3,-1M672.8,201.3l0.9,-0.1M660.6,198.4l-0.8,-0.1M672.7,199.2l-0.8,-0.2M652,208.6l0.3,-0.5M651.7,195.5l0.7,0.2M647.4,203l-0.5,-1M672.1,206.5l-1.1,1M652.8,212.3l-0.2,-0.9M643.6,194.6l1.2,-0.2M604.4,214.7l-0.5,-0.1M612.1,212.4l-1.2,1.1M667.6,208l0.8,0M661.2,207.1l1.3,-1.2M606.2,214.8l1.2,-0.2M664.6,209.3l-0.3,-0.1M627.8,217.7l-0.7,-0.1M653.1,211.7l-0.7,-0.8M645.5,195l1.1,0.2M630.9,203.3l-1.3,0.6M668.2,200.1l0.6,-0.5M617.9,211.5l0.4,0.5M643.4,200.8l0,-0.2M683.1,192.1l1.1,0.7M681.7,188.7l0.3,1.1M626.6,223.2l1.1,-0.2M675.3,202.8l-0.5,-0.1M684.3,194.9l-1.3,1.1M628.8,201.1l1.3,-0.5M685.1,193.8l1.1,-0.4M649.2,209.3l-0.3,0M627.1,222.4l1.2,0.6M674.4,186.3l-0.7,-0.7M682.1,195.5l-0.6,1.1M628.3,214.2l-1.1,1M636.2,199.2l0.4,0.2M679.1,199.2l-0.9,-0.4M649.3,202.1l-0.5,-0.5M644.2,219.6l-0.2,0.6M643.5,201l0,0.8M634.1,200l-0.4,-1.2M649.5,205.5l-0,-0.1M642.9,216.6l-0.9,1.2M615.9,220.4l-0.7,-1M668.6,204.2l0.7,0.7M675.4,196.2l0.5,-1.1M619.1,216.6l-1.3,0M685.1,193.1l0.6,0.6M617.4,208.2l1.3,-0.7M676.9,203.9l0.1,0.4M612.4,217.3l0.8,0.9M639.8,201.3l0.1,0.5M654,202l1.3,-0.2M631.9,211.2l-0.4,1.1M659,204.5l0.4,0.2M656.1,206.3l0.1,-0M675.5,192l0.8,-0.5M677.1,186.4l-0,-0.1M664.6,192.5l-0.7,-0.9M651,210.1l-1.4,-0.8M641.3,209.6l-0.6,0.4M671.7,198l-0.6,0.3M653.1,206.3l1,0M650.2,200.1l0.1,-0.4M621.7,216.4l0.4,-1.1M668.2,193.8l1.4,-0.9M652.6,190l-0.2,0.5M663.4,212l1.3,-0.6M616.4,220.5l-1.1,0.6M636,224.2l0.7,0.4M676.7,185l-0.7,-0.3M639,214.5l1.1,0.6M632.4,206.9l0.7,0.8M633.6,199.7l0.3,-0.7M658.9,205.8l-0.9,0.2M669,201.4l-0.8,0.4M619.1,218.6l0.2,0.8M634.3,209.4l-0.2,0.3M646.9,196.4l1.3,0.9M668.9,196.1l-0.9,0.6M619.4,216.9l0.1,-0.3M653.5,204.1l0.4,0.6M659.7,210.2l1,-1.1M653,197.6l0.3,-0.9M647.7,195.1l1.2,0.7M642.9,218.5l-0.3,0.1M638.3,224.7l0.3,-0.4M673.9,199.7l1.1,-0.2M670,188.4l0.1,0.9M653.6,199.4l0.7,0.8M652.6,212.5l-0.5,-0.2M620.5,220.3l-0.8,-0.8M669.5,190.9l1.3,-0.1M618.8,219.9l-0.2,-0.7M650.9,197.2l0.9,-0.7M631.8,224.6l0,-0.8M621.5,213.3l-0.6,0.9M615.6,212.5l-1.3,-0.9M663.3,209.2l-0.2,-1.1M687,195.6l-1,0.7M637.1,211.3l-1.1,-0.6M638,218l-1.2,1M621.5,221.5l0.9,1.1M642.7,215.8l-0.6,0.8M685.5,197.9l-1.2,-0.6M614.2,208.7l-0.8,0.6M629.1,210.2l0.1,0.3M662.5,193l0.5,1.1M635.3,228.2l0.3,1.1M647.8,218.4l0.5,-0.7M647,210.3l-0.1,0.4M673.8,189.7l0.6,0.3M633.8,216.2l0.3,-0.2M639.8,209.4l1.4,0.1M671.8,197.3l0.6,0.3M655.4,195.2l-0.1,-1M621,222.4l0.6,0.9M634.4,206.3l0.6,-0.5M666.9,210.5l-0.6,0.7M606.7,210.8l-0.9,-1.1M643.4,207.4l0.3,-0.3M663.6,191.3l-0.4,0.4M632,213.7l1.3,0.7M657,212.4l-0.5,0.3M658.9,210.6l-0,0.6M618.6,216.5l1.3,-1.1M677.1,197.2l1.2,1M613.8,218.6l-1.1,-1M640.5,208.9l-0.2,1.1M630.9,205.4l1,-0.6M628.7,224.9l0.9,-0.3M679.3,203.8l-0.4,-0.8M611.9,209.1l0.3,0M645.6,201.7l-0.9,0.8M681.9,198.6l-0.6,0.7M664.2,192.2l0.5,0.2M643.8,209.6l-0.5,-0.7M682.8,200.2l-1.1,1.1M646.4,214.8l-0.5,-0.8M630.2,222.2l-0.6,1M627.6,225.2l-0.9,-0.1M647.4,200.2l0.1,-0.7M681.6,186.8l-0.2,0.9M651.9,195l1.4,-0.9M639.9,223.4l-0.6,-0.5M672.5,186.6l-1.4,0.4M613.1,211.3l1,-0.1M624.8,212.3l0.6,-1.1M645.9,195.9l0.4,-0.6M682.2,199.5l-0.8,-1M680.1,202.6l-0.2,1.1M645.9,195.1l-0.4,-0.7M621.9,218.2l0.3,-0.1M642.8,211.8l0.5,-1.1M676.6,204.7l-0.4,1.1M668.7,199.5l-1.3,-0.2M639.9,200.6l-1.1,0.2M623.1,218.8l0.1,-0.5M675,204l-1.2,-0.5M659.2,190.3l-0.7,-0.7M633.8,213l-1.3,-0M638.6,214.1l0.9,-0.2M654.7,195.8l-0.1,0.3M622.6,221.7l-0.4,-0.7M625.8,207.5l-0.3,-0.4M645.8,211.2l-1.2,0.2M685.2,189.2l0.5,-0.4M650.5,214.8l0.4,0.9M677.7,197.3l-0.8,0.1M653.5,199.6l1,0.8M662.4,208.2l0.5,-0.7M673.3,189l1.1,0.3M654.5,204.8l0.6,-1M679.5,203.2l-0.2,0.6M655.1,203.9l-0.6,-0.1M675,188.6l-1.2,0.8M633.9,207.9l0.2,0.5M628.9,219.2l-1.4,0.8M628.1,212.4l-0.5,0.6M634.2,211.3l-0.5,0.8M670.5,192.5l0.7,1.1M684.4,195.4l0.8,-0.5M671.5,206.9l-0.1,-0.9M653.6,195.9l-0.7,-1M632.5,207.3l0.3,1.1M657.4,213.9l0.9,-1.2M682,198.6l0.4,-0.2M667.7,197.2l-0.6,-0.6M665.8,204.4l-1,-0.3M651.6,200.5l0.3,0.8M627.5,223.9l1.2,0.1M665.8,206.9l0.1,-0.9M618.7,211.7l1,0.4M679.7,201.8l0.7,0.7M634.1,218.5l-0.3,-0.7M668.3,185l-1.2,-0.4M618.9,217.4l-0.9,0.2M650,199.4l1,-0.2M646.5,214.3l-0.3,-0.8M649.5,206.3l0.3,-0.5M681.7,187.6l1.3,-0.3M649.3,219.8l0.9,0.8M626.2,221.9l1.3,0.2M659.1,203l1.2,0.3M663.5,190.1l0.1,0.5M624,206.6l1.3,-1M666.4,198.3l0.6,0.8M673.4,184.9l0.5,0.7M684.7,198.8l-0.1,0.9M642.7,206.9l-1.2,-0.7M614.4,208.2l0.1,-1M657.6,187.8l-0.3,-1.1M685.4,200l0.9,-0.1M629.7,222.5l-0.6,0M663.9,185.4l-0.1,1.1M677.6,200.3l-1,-0.6M668.7,191.5l1.1,-0.6M622,207.4l0.4,-0.6M648.3,212.5l1.3,-0.5M615.8,206.8l0.3,-0M682.9,192.5l0,-0.1M641.1,200.6l0.8,1.2M688,193.3l-0.4,1.1M645.9,203.4l-1.1,0.9M632,204.2l0.1,0.7M627.6,207.1l0.1,0.8M636.7,224.5l-0.9,0.3M656.7,187.8l-0.1,0.2M635.2,218.5l1,-0.5M654.1,210.8l0.2,0.6M662.7,195.7l0.4,0.5M628.6,208.9l0.2,0.2M616.7,214.4l-1.1,0.1M641,215.7l1,1.2M642.9,206.7l-1.3,0.9M648.4,199.9l0.7,1M684.6,200.6l0.5,0.6M665.8,201.8l-0.9,0.6M659.6,199.5l0.5,-1M612.8,211.7l-0.9,-0.7M639.9,200.5l-0.7,0.4M657.7,195.1l-0.9,-0M668.8,203.8l0.7,0.4M634.3,216.7l0.7,-0.5M654.3,204.1l0.7,0.9M632.7,219.4l-0.4,-0.4M638.7,215.9l-0.5,0.1M642.7,202.8l0.2,-0.1M666.4,188l-0.9,-1.1M637.5,222.9l0.3,0.3M648.8,193.8l0.3,-1M635.5,216.9l-0.7,-0.8M668,192.1l1.1,0.3M644.4,195.1l-1.2,1.1M666.5,195.2l-0.6,0.4M661.8,193.6l-0.7,0M659.7,190.1l0.2,0.2M671.9,204.4l0.6,-0.6M609.9,214.1l-0.7,1M645,216.9l0.8,-0.9M674.4,203.4l-1.3,-1.1M633.9,214.9l0.9,-1.2M639.9,211.5l-1.1,0.7M659.9,202l-1.3,-0.8M636.5,226.3l-0.1,0.9M672.2,200.3l-0.5,0.4M640.6,224.3l0.5,0.8M638.8,201.6l-0.1,1.2M642.7,216.3l-0.6,-0.6M646.4,206.3l-1.4,-1M634,216.3l-0.3,-1.2M669.4,193.7l1.3,-0.5M644.6,207.2l0.8,0.4M684.2,194.7l-0.7,-0.8M653.4,213.8l-0.5,-0.6M664.6,188.6l-0.7,0.6M664.5,189.4l1.4,0.5M665,198.1l1.3,-0.1M675.8,191.3l-1,-0.7M649.3,205.4l-0.4,-0M639.7,217.1l-0.2,0.9M668.1,191.1l-0.2,0.8M632.4,209.9l-0.8,0.8M630.3,200l0.9,-1M635.6,219.2l1.1,1M672.2,186.5l-0.4,-0.1M625.3,219.7l0.5,-0.6M631.1,204.1l-0.9,-1.2M623.1,220l0.7,-0.2M623.2,208.6l1.1,0M673.7,191.5l0.4,-0.7M667.8,200.7l0.5,0.1M607.5,209.8l0.4,-1.1M640.6,223.4l0.6,-0.5M640.5,222.7l-0,0M665.5,190l-0.1,0M651.5,215.6l-0.6,-0.1M650.8,202.3l-0.4,-0.1M686.1,200.2l-0.8,0.4M638,207l1.4,-0.3M666.7,196l0.5,1M625.9,216.7l1.2,-0.1M613.6,208.1l-0.4,-1.1" stroke-width="1.25" stroke="#000"/>
<path d="M568,203 Q559.5,208 558,215 Q557,222 559.5,226 L678,293.5 Q688,292.5 691,286 Q694,278 693,272 Q692,267 688.5,265.5 L598,214.5 Z" fill="#fff" stroke-width="1.3"/>
<path d="M630.5,236.1l-1.2,0M567.7,211.2l-0.2,0.8M575,223.2l0.4,1.1M636,238.9l1.3,-1.1M577.7,213.6l-0.5,0.8M566.3,221.6l0.5,-0.2M619.3,230.1l0.8,0.5M661.3,254.8l1.1,-0.4M652,256.7l0.2,-0.1M671.4,288.4l-0.1,0.4M580.9,213.6l-1.2,0.6M575.7,225.4l-0.3,0.9M668.7,281.1l-0.6,-0.2M582,224l-0.7,-0M686.7,265.4l0,0.3M679.5,273.5l1,0.7M611.2,239.1l-1.1,0.3M566.7,209.1l-0.8,-0.8M592.3,234.4l-0.4,-0.9M621.1,246.7l-1.2,-1M604.5,226.9l0.9,-0.8M674.6,265.9l-0.7,-0.3M602.7,223.2l0.9,1.2M673.1,275.9l0.9,0.6M588,223.5l-0.8,-0.7M646.3,275.3l-1.2,0.4M680.8,273.7l0.7,-0.1M575.4,216.7l1.1,0.7M592.2,229.5l-0.7,0.2M593.2,240.9l-1,1M606,244.4l0.2,1M625.9,251.1l0.1,-1.2M656,253.3l-0.5,0M591.8,228l0.8,0M640.8,248.7l0,0.5M619.2,251.2l-0.1,1.1M568.1,224.8l-1.2,0.4M663.9,284.1l-1,0.5M677.2,290.5l-0.8,1.1M611.9,247l1.4,0.8M627.8,233.7l-0.9,-0.4M632.9,242.8l-1.3,-0.4M642.3,249.3l-1.2,1.2M572.4,227l-1.3,0.7M594.7,214.7l-0.2,1M635.2,266.3l-1.1,-1.1M619.4,233.7l0.1,1M594.4,214.7l0.1,-0.6M573,217.6l-1.3,-0.7M600.3,230.6l0.7,-0.5M657,252.8l-0.9,-0.1M611.2,248.8l0.5,1.2M653.5,260.5l-0.3,-0.4M565.6,214.7l-1.2,0.6M592.7,217.8l-1.2,0.8M675.6,263.6l-0.6,-0.6M597.8,244.5l-1,-0.1M600,235.2l-1.4,-0.3M622.2,248.4l-0.8,0M599.3,224l0.2,0.1M659.4,262.4l0.6,0.9M610.8,232.5l1.4,-0.8M655.8,261.1l-1.3,0.8M657.1,276.4l-1,0.1M666.7,277.7l0.2,0.9M650.3,265.7l-0.8,-1.1M633.5,259.8l0.4,0.4M665.7,270.6l0,0.1M568.3,227l0.6,-0.7M624.8,237.6l-0.1,0.4M661.6,258.8l0.4,-1M578.2,226l0.7,-0.5M566.5,227.3l0.5,0.5M627.9,245l-0.1,-0.9M618.8,227.3l-0.8,1.1M677.8,266.6l-0.8,1M619,230.3l-1,-0.4M683.1,267.5l1.1,-0.5M608.4,238.5l1.4,0.2M606.9,241.7l-0.6,-1.1M591.9,227l0,-0.7M677.4,276.4l0.4,1M659.7,261.3l-0.6,-1.1M621.9,234.1l-0.6,0.6M633.4,238.7l-0.9,-0.8M584.2,211.2l-0.4,-1M590.5,226.4l0.2,0.9M614.1,250.4l-0.3,-0.4M566.7,228.1l1.3,-0.9M626.1,259.9l1,-0.7M594.8,225.5l-0.3,-0.1M686.8,279.7l1,-1.1M669.5,280.3l1.3,-0.6M573,217l0.1,0.4M685.1,268.2l0.4,0.6M619.9,252.9l-1.3,0.7M575.5,225.8l0.4,0.5M573.4,209.4l0.1,0.2M610.6,223.2l0.3,-1.2M598.9,244.6l1.3,0.3M589.9,225.3l1.3,0.5M614.9,226.3l0.5,1M603.8,241l0.5,-0.7M665.7,269.8l0,-0.7M588.4,240.7l0.5,1.1M577.4,207.7l-1.2,-0.3M679.3,282.9l0.7,1.2M608.7,233l-0.9,-1.2M596,234.8l1.3,-0.9M584.3,235.9l1.1,-1.1M604,227.6l1.3,0.3M600.9,227.9l-1.4,0.6M610.4,225.7l-0.2,-0M666.4,269.8l0.9,0.7M601.3,235.7l0.8,-1M677.3,292.3l-0.7,-1M589.8,240.7l0.3,0.4M659.1,279.6l0.5,-0.9M634.7,236.7l0.7,-0.7M591.6,225.2l-1,0.9M667.2,262.1l1.4,-1M671.5,285.7l-1.3,-0.5M574.4,220.1l1.3,0.2M638.6,259l-0.8,-0.3M577.3,221.4l-0.7,0.2M600.4,221.4l0.8,0.1M566.8,212.2l-0.3,0.1M613.5,228.6l-0.5,1.1M606.4,240.6l1,1.2M607.3,220.8l0.6,-0.7M608.3,248.6l-1,-0.5M584.9,214.4l1.2,1.1M587.7,239.1l0.1,-0.3M574.9,225.3l0.6,1M639.1,252.7l0.4,-0.5M614.9,255.7l-0.2,0.4M618.5,242.6l-1.3,0.3M661.2,273.5l-0.1,-0.8M657.1,273.3l0,-1.1M626.2,237.2l1.3,-0.9M656.9,276.7l-0.9,1.2M586.4,226.8l0,-0.4M563.3,219.5l-0.9,1M637.2,263l-0.5,-1.2M562.9,216.5l0.3,-0.2M576.1,223.5l0.4,-1.1M642.3,245.9l-1,1M591.1,216.5l-1.1,0.3M675.7,273.7l-0.3,-0.6M645.3,243.1l1.2,0.6M613,224.5l-1.2,0.7M626.6,261l0.9,-0.8M600,230.1l-1.3,0.9M663.8,267.7l-1.4,0.8M588.7,212.5l-0.7,-1.1M632.9,242.4l0.8,0.1M593.4,224.3l0.7,1.1M643.3,265.6l0.5,1.1M651.6,260.3l0.6,0.6M668.7,283.6l-1.2,0.9M681.5,288.4l-1.1,-0.7M573.4,206.1l1,0.7M571.8,211.8l0.7,-0.7M601.3,241.3l-1.3,-0.6M607.9,232l1.3,0M673,258.9l-1.3,-0.2M596.5,222.4l0.6,-0M652.2,274.1l0.4,-0.3M612.4,238.7l1.1,-1M586.1,226.8l1.1,0M659.7,261.4l-0.4,-0.4M647.5,270.1l-0.9,-0.1M662.5,255.4l-1,-0.1M584.1,230.3l0.6,0.8M579.1,217.1l-0.7,-0.4M602.5,220.1l1.3,0.5M690.8,274.9l0.7,-0.2M572.7,221.7l-0.3,-1.1M651.7,248.2l0.4,-0.1M662.6,266.3l1,0.4M644.7,244l-0.5,0.3M663.7,267.5l0.4,-0.6M615.4,244.1l0.3,-0.2M627.3,260.8l0.9,0.1M595.3,239.1l-1.4,-0.2M605.7,227l-0.8,0.6M611.1,222.2l-1,0.7M667.3,260.3l-0.1,0.1M668.6,276.8l-0.1,-0.5M609,225.9l-0.2,-0.8M596.2,225.1l-0.6,-0M683.4,280.2l-1.2,0.8M680.3,273.9l-1,0.8M572,215.9l-0.7,0.7M680.1,274.6l-0.9,0.9M664.5,278.8l-0.8,0.5M589.8,215.6l-0,-1.1M624.5,248l0.1,0.9M621.3,253.9l0.5,0.8M608.8,240.9l1.3,-1M644.1,260.5l-1.3,0.3M627.1,246.8l1.1,-1.1M655,259.5l-0.5,0.9M607.6,245.9l0.1,0.6M615.2,253.1l0.9,-0.5M646.5,274.6l-0.5,-0.4M643.8,273.9l-1.3,0.5M559.1,220.2l1.2,0.3M646.9,274.3l1.1,0.3M641.4,259.7l0.5,0.2M648.1,244.4l0.7,-1M669.1,274.1l0.2,-0.6M599,241.1l-0.5,-0.2M563.6,213.7l0.9,0.2M643,267.1l-0.1,1M643.1,240.8l-0.3,0.7M685.6,273.9l0.2,-0.5M653,277.8l-0.5,0.3M690,278.1l0.3,-0.5M615.2,256l0.9,0.9M667.6,281.4l0.2,-0.5M673,276l0.5,1M640,264.3l-0.1,-0.7M622.5,256.3l-0.9,-0.7M612.5,249.8l-1,-1.1M685.8,272.4l0.9,1.1M585.4,219.3l-1.2,-1.1M638.9,238.9l-1.1,1.1M592.8,234.8l1.1,1M664.2,267.1l0.4,1.2M565.8,216.1l0.7,1.1M572.5,232.3l-0.7,-0.9M590.4,215.9l0.5,-1.2M675.1,283.3l-1,-0.1M671.8,259.8l-0.1,-0.4M654.4,253l-1,0.9M594.2,240.2l-1,-0.5M622.6,228.9l-0.7,-0.7M571.4,229.2l1.1,-1.1M569,210.9l0.3,-0M595.2,221.6l0.3,0.5M667.6,255.7l-0.8,-1M671.7,281.2l-0,-1.2M618.3,249.6l-1.1,0.5M668.3,281.2l-0.5,0.5M627.4,251l0.1,-1.2M582.9,212.3l-0.7,0.8M562.4,211.7l0.6,-0.7M636,250.3l0.6,-1M675.4,267.8l-1.3,-0.9M624.8,248.3l-0.6,-0.9M669.6,287.8l-0.3,-0.2M590.7,233.3l-0.2,1.2M666.6,285.5l0.9,0.8M687.3,287.5l-0.7,-0.2M616.6,248.6l-1.3,-0.9M688.9,273.2l1.2,0.3M667.3,282.9l1.1,-1.1M628.4,242.2l1.3,-0.5M594.5,245.2l0.1,-0.8M575,214.9l-0.6,-0.2M597.1,225l-1.2,0.1M671.4,258.1l0.2,0.4M620.4,252.5l0.3,-0.1M600.1,224.9l-0.8,0M633.3,247.4l-0.6,1.2M579.7,209l1,-0.1M573,223.4l1.3,0.6M579.1,233.5l-0.4,0.4M657.8,270.2l0.7,-0.1M664,267.1l1.2,-0.9M661.4,256l-0,1.1M635.3,240.8l0.8,0.9M619.2,244.4l0.6,-0.5M610.9,253.2l-0.3,-0.4M664.3,279.8l-0,-0.1M583.1,230.5l-1,0.2M671.9,278.8l1.3,-0.7M634.4,248l1.2,0.7M628,249.8l0.5,-0.3M649.4,250.5l-1.1,-0.3M612.3,253.7l0.2,0.9M581.3,231.8l1.3,0.8M678.8,265.4l0.9,1.2M579.4,229.2l0,0M583.6,219.5l0.4,0.2M671.7,256l0.5,-0.7M625.4,253l-0.7,0.4M635.7,240.2l-1.1,-0.8M571.8,218.4l0.1,0.8M581.1,227.1l-1.1,1M618.9,237.9l-1.2,0.9M683.7,280.3l-0.5,1M591,238.2l0.6,-0.7M591.1,218.7l-0.4,-0.8M630.2,237.9l-0.3,-1M605.6,225.1l-0.9,-0.5M570.8,227.4l0.9,-0.9M607.9,225.3l0.3,-0.7M627.4,252.1l-0.6,0.7M607,248.2l-0.6,-1M600.2,223.5l-1,0.5M596.3,239.5l1.1,0.7M677.2,280.9l-1,-0.5M657.2,267.4l-1.3,-1.1M580.1,220.9l-0.6,-0.3M670.7,273.2l-0.6,-1.1M673.4,257.9l-1.3,-0.6M659,277.9l-0.6,-1M683.6,265.5l0.7,0.8M642.9,243.9l-1.2,0.5M616,249.3l1.2,-0.9M653,275.8l-0.7,0.1M653.5,263.6l-0.7,-0.6M627.7,243.2l1.2,-0.4M638.9,244.7l0.7,0.8M573.7,229.2l-0.4,-0.7M566.4,228.4l-0.8,0.5M602,245.4l-0.4,-0.8M568,204l1.4,0.6M591.4,215.5l-1.3,0.7M672.2,286.8l-0.9,0.7M670.2,270.1l-0.5,-0.8M607.9,252.8l-0.4,0.8M634.7,259.8l0.9,0.5M680.2,288.4l-0,-0M579.5,230.1l0.2,-1M570.4,206.6l-0.2,-0.7M671.6,280.3l0.8,-0.2M627.6,241.1l-0.5,-0.1M598.1,243.1l0.2,-0.4M584.6,210.7l-0.5,-0.1M689.1,285.1l1,1.1M649.4,258.1l-0.6,0.2M562.1,220.1l0.5,-0.1M614.4,250.9l0.2,-0.2M573.7,219.3l1.1,0.1M624.2,253.1l-0.8,0.2M590.2,236.7l-1.4,0.2M587,230.1l0.6,-0.2M681.9,281.7l-0.9,0.6M651.2,276.1l1.3,-1.2M581.2,235.6l-0.1,0.2M610.5,235l-1.4,0.2M564.4,216.2l0.5,-0.5M675.8,273l0.4,0.3M607.2,228.5l0.8,0.9M684.7,264.6l-0.5,0.6M657.9,249l0.4,-0.4M632.5,239.7l-1.2,-0.4M623.2,236.2l-0.7,-0.6M619.3,243.3l0.2,-0.5M581.1,209l-0.6,-0.5M656.2,252.8l1.2,-0.4M569.1,219.2l0.2,1.2M580.5,227.2l0.6,-0.7M667.3,282.1l-0.4,-0.9M676.2,260.8l1.2,-0.7M603.4,247.7l0.3,-0.6M641,268.5l-0.5,-1M579.3,215.9l0.7,-1M630.9,256.2l0.2,0.4M654.1,272l0.8,-0.5M619.3,228.2l0.1,1.1M562.1,215.1l-1.2,0M578.4,219l0.7,1M588.5,225.8l-0.7,-0.2M589.5,221.4l0.7,0.3M659.5,277.4l-0.6,-0.4M638.8,244l0.2,0.9M571.4,218.3l0.5,-1M605.9,247.9l1.2,-0.4M677.3,269.1l-0.6,-0.8M613.3,253.3l-0.4,-1.2M651,262l0.1,0.1M676,267.9l-0.3,-0.4M610.4,237.8l-0.3,-0.9M609.1,224.8l-0.8,-0.9M671.9,273.9l1.1,-1.1M645.3,252.6l-0.5,1.1M629.2,258.4l0.5,-0.4M643,252.1l-0.8,0.3M628.6,246.1l-0.8,-0.9M628.9,250.7l0.9,-0.6M669.8,283.8l1,-1.1M579,225.7l-1.1,-0.3M608.2,233.7l-0.3,-1.2M566.1,219.1l0.6,-0.5M601.9,224.9l0.9,-1M665,258.9l-0.4,-1.1M617.9,236.2l0.6,-0.5M689.1,267.4l-0.4,0.4M629.1,247.9l1.1,0.6M620.6,244.8l1,-0.2M617.5,247.4l0,0.8M648.6,269.9l-0.3,-1.1M649.9,253.1l0.8,0.6M574.2,223l-1.2,0.8M572,211l0.7,0.2M654.1,246.6l-1.2,0.5M614.6,255.8l1.4,0.8M603.3,249.8l-1.4,1.2M595.3,226.7l-0.5,-0.6M627.1,241l-1.3,-0.5M675.1,275.5l1,-0.6M630.6,236.8l-0.1,-0M630.1,240l0.2,-0.4M666.4,256.5l-0.1,1M649.1,264l-0.6,-0.7M571.9,211.6l0.8,1.1M597.9,224l0.2,-0.4M597.5,234.5l0.7,-0M638.8,251.9l-1.2,-0.9M603.2,243.6l-0.7,0.6M638.5,244.7l-1.3,0M605.8,236.9l0.5,-0.8M578.4,211.5l1.1,-0.9M625.1,251.5l-1.1,-0.1M626.6,236.2l-0.8,-0.2M585.7,214.5l-0.7,0.9M635.1,265.3l-0.8,0.6M579,226.9l-1.3,-0.3M641.6,265.5l0.9,-0.4M585,222.9l-0.5,1.1M692.6,274.6l-0.1,-0M659.5,260.5l-0.8,0.3M672.2,274.1l-1.1,0.5M669.9,287.7l1.1,0.6M670.4,275.5l0.3,-0.2M669.5,273.9l1,-0.5M688.8,274.2l-0.7,0.8M589.6,220.9l-0.1,-0.6M650.6,267.2l-0.3,0.7M665.2,264.7l1.2,0.8M670.9,274.7l-1.4,-0M560.5,213l0.9,-0.2M639.8,244.4l-0.5,-0.7M570.2,227.5l0.6,-0.1M583.1,227.5l1.3,-0.3M611.4,248.2l1.3,0M592.1,234.8l-1.1,0.1M678.7,263.2l-1.2,0.3M628.6,264.2l1.1,-0M650.4,253.4l-0.1,0.6M678.3,268.9l0.7,-1.1M686.7,283.6l-1,0.2M631.6,241l1.3,0.4M666.7,264.2l-0.3,1.1M653.9,265.5l-0.6,-0.8M598.4,237.6l1.3,1.1M583.5,231l1.2,-0.7M601.5,242.6l-1.1,-0.6M611.4,237.9l1.3,-0.6M644.1,273.4l-0.5,-0.8M633.6,263.6l0.7,-0.5M594.1,225l-1.2,0.1M659.8,264.3l-0.2,0.7M573.3,230.7l0.4,1.1M643.7,265.6l0.8,-0.3M685,270.1l-0.4,-0.3M629.9,250.1l0.5,1M576.3,233.6l-1.2,-0.2M648.3,255.2l-0.3,0.2M664.5,278.8l-1,0.4M679.3,284.3l0.7,0.8M653.1,258.4l-0.6,-1M595.1,222.3l-0.8,-1M577,227.9l-1.2,-0.1M573.2,223.3l0.4,-0.4M643.2,268.5l0.2,-0.2M627.3,256.2l-0.8,0.9M692.4,275.7l1.3,-0.4M604.3,220.2l-0.3,-0.5M627.8,242.7l-0.8,0.5M584.8,227l0.2,0.5M689.4,270.6l1.3,1M655.6,268l-1.2,-0.7M655.6,260l-0.7,-0.3M564.3,218.8l-0.4,1M572.1,212.6l-1,0.7M681.1,274.8l-0.1,0.8M575.6,212.8l0.2,0M586.5,225.8l-1.3,1M667.7,279.1l-1,-1.2M670.1,274.1l-0.1,-1.1M623.6,260.8l-0.8,-0.6M575.3,221.1l-0.1,0.2M644,266.9l-0.2,-1M621.7,239.2l0.5,0.5M651.5,245.6l-1,1M589.1,238.5l0.8,0.8M643.7,270l-1.3,-1M689.8,275.6l-1.3,-1.1M689.4,267.2l-0.9,0.7M678.1,285.8l-1.4,0.8M626,259l0.3,0.7M568.8,207.9l0.1,-0.5M670.1,276.4l-0.1,-0.9M656.7,279.8l1,-1M607.8,230.4l0.7,-0.8M568.4,213.3l0.5,0.2M628.4,244.2l-0.3,0.3M657,275l1.2,0.8M592.3,230.2l-0.4,-0.4M683.9,271.9l0.9,1.2M591.9,240.3l-1.3,-0.6M677.7,286.2l-0.5,0.6M662.7,283.4l0.8,0.1M607.8,251.6l1.3,-0.8M629.8,261.8l0.1,1.1M570.4,222.2l-0.6,1M650.8,265.4l0.7,0.6M591.8,226.2l-1.3,0.5M586.5,226.5l1.3,0.3M637.9,262.3l0.3,0.5M567.3,204.3l-0.4,-0.9M582.3,212l-0.6,-0.2M673.5,275.6l0.5,-0.5M559.6,220.2l1.1,-0.8M647.1,256.1l0.5,-0.8M577.7,211.8l1.4,-0.3M646.2,254.5l-0.8,-1M592.2,236.1l0.1,-0.9M596.7,237.4l0.7,-0.7M584.4,222.8l-0.3,-0.3M644.7,245.6l1,-1.1M570.9,213.6l-0.1,-0.8M574.2,209.1l-0.4,-0.1M567.9,223.1l0.7,0.2M675.5,290l1,-0.9M590.6,218.4l1,-0.7M569.5,227l1.2,-0.1M619.3,231.7l-0.8,0.4M646.3,249.5l-1.3,-0.1M658,251.6l-0.7,-0M639.8,261.9l-1,0.7M685.7,269.9l1,-0.3M601.6,239.8l-0.4,0.4M593,244.1l0.2,0.5M576.8,224.7l-1.1,1.1M578.4,215.4l0.1,0.2M589.9,218.1l0.2,-0.1M597.3,229.1l1.3,0.9M614.9,250.9l1,0.7M646.3,249.4l-1.1,-0.6M646.9,256l0.8,1M590.2,236.1l0.1,0.4M642.4,245.6l0.5,0.7M649.6,267.1l0.4,-0.8M687.4,274l-0.7,-0.2M647.7,272.3l-1,-0.7M587.3,227l-1.3,-0.9M613,241l-1.2,0.2M661.6,278.5l0.4,0.3M598.8,226.1l0.9,0.2M672.7,282.1l0.2,-0.7M567.7,203.4l-0.9,0.5M603.5,250.2l-0.5,-0.2M565.7,210.6l-0.9,-1M642.4,266l-0.7,0.7M565.2,216.9l0.5,-0.3M665.7,275.5l-1.1,0.2M666.6,274.5l-0.8,-1M647.7,254.1l-1,-0.7M593.1,241.3l0.1,0.5M588.1,229.3l0.4,0.5M585.9,231.1l0.5,-0.6M579.5,223.5l0.8,0.8M570.3,207.4l0,-0.8M683.8,282.3l-0.1,-0.7M628.5,235.8l0.6,0.1M601.2,246.1l0.6,0.6M608.4,243.4l1.2,1M690.5,285.2l-1,-0.1M572.7,209.4l-0.9,0.1M615.7,233.6l-1.1,-0.6M678.4,284.7l-0.1,1.1M603.9,225.4l-0.7,-0.1M604.3,220l-0.2,0.8M672.6,277l-0.7,-0.3M608.8,234.9l-0.3,-0.9M677.8,271.3l-0.7,1M656.4,271.2l0.9,-0.6M630.9,233.4l0.9,-0.4M672,279.6l1.1,-0.9M684.7,270.3l0.5,0.4M632.1,244.2l-0.4,0.7M663.7,281.6l-0.8,-0.4M567.8,209.1l0.7,-0.7M620.5,239.3l0.8,1.1M679.5,269.3l-0.5,0.9M628.1,246.8l-0.2,0.9M607.1,235.8l1.3,0.5M677.3,292.7l-0.2,-0.3M585.5,230.3l-0.5,0.6M625.7,263.4l-1,1.1M660.6,281.5l-0.4,1M679.6,289.3l0,1M615.4,257.4l-0.7,-0.5M614.9,249.4l-0.1,-1M654.9,270.7l-0.7,-0.6M655.4,270.7l0.6,0.5M569.9,209.3l0.8,0.4M591.3,221l-0.9,-0.2M580.1,222.8l-1.2,-0.7M600.8,248.6l-0.9,-0M581.1,209.6l0.6,1.1M612.6,235l-0.2,-0.4M672.7,268.9l-0.4,0.3M616.6,230l0.2,0.4M577.9,236.1l1,0.7M637.8,264.2l-0.4,1.1M632.3,239.4l-0.9,-0.9M679.2,275.4l-1.3,-0.4M622.9,247.8l-0.4,0.9M605.4,251.1l1.2,0.3M622.5,233.1l-0.3,0.3M608.2,238l-0.4,1M561.2,220.5l-1.2,0.7M578.1,223.6l-1.2,-0.6M657.1,268.1l1.1,1.1M659.1,280.6l-0.3,-1M675.9,271.1l0.3,1.1M653.7,260l-1.1,-0.8M616.8,238.3l-0.7,-0.6M582.5,216.8l-0.4,0.6M635.8,243.8l1.1,0.2M603.7,238.8l1.2,0.9M577.5,218.8l-0.3,0.5M635.1,268.8l-0.3,1.1M687,287l0.3,-0.4M609,227.3l1.1,0.7M664.5,277.2l1.4,0.5M683.6,271.4l-1,0.6M637.3,241.6l1.2,-1M656.7,261.6l-1.1,-0M615.8,254.7l0.9,0.6M620.9,245.4l0.6,0.5M583.3,215.4l0.9,-0.9M689.1,272.7l0.4,0.1M666.8,264.7l0.7,-0.6M687.9,286.5l-1,0.4M632.9,239.6l-0.9,-0.9M621.6,247.6l-0.7,-0.3M562.2,221.5l-1.1,-0.5M643.1,253.9l1.3,0.4M643.7,252.1l1,0.4M671,263.5l0.5,1M560.1,221.3l-0.9,0.8M627.7,232.2l1.3,-0.2M594.7,216.4l-0.4,0.4M656.1,252.8l-0.4,1M592.7,215.8l-1,-0.8M635.7,253.7l-0.2,0.1M615.2,224.4l0.7,-0.6M610.5,233.3l0.7,-0.7M619.3,248.5l1.2,0.2M582.7,209.3l-1.2,-0.4M615.4,230.9l0,1M591.2,217l-0.5,-0.4M680.9,266.8l-0.2,-0.8M564.4,214.1l1,0.4M658.3,267.8l0,-0.8M588.3,239l-0.8,-1M603.4,227.1l0.5,-0.7M648.5,247.8l0.9,-0.5M684.1,276.6l-0.1,-0.9M650.7,266.1l0.2,1.1M636.8,268.4l-0.4,0.5M674.8,260.6l-1,0.9M680.7,274.1l1,0.2M623.4,233.5l-0.4,0M626.2,240.9l0.5,-0.8M662,266.6l0.8,0M627.1,236.9l-0.6,-0.2M653.8,277l-0,0.6M606.5,230.7l-0.4,0.6M646.5,264.1l0.4,0.5M665.5,269.6l-0,-0.3M672.6,281.4l-0.2,-0.2M583,217.3l-0.6,1M673,283.5l-0.2,-0.7M617.5,238.9l0.3,-0.6M637.2,254.9l-0.5,-1.1M639.4,249.1l-1.1,-0.7M600.2,240.6l-0.4,1M665.6,276.3l-0.6,0.7M663.1,279.1l0.1,-0.3M570.9,211.2l-0.4,-0.2M652.9,249.7l1.3,-0.8M627.1,247.6l-0.4,0.9M606.5,233.3l0.3,0.2M630,232.6l-0.5,0.8M603.9,240.7l1.3,-0.3M647.5,263.1l-0.2,-0.2M562.2,222.9l1.3,0.4M649.3,247.9l-0.1,-0.7M626.9,231.4l0.1,-0.9M623.4,258.7l-1,-0.5M649.7,252.4l0.3,0.7M607.3,243.5l1.3,0.8M651,251.2l1,-0.7M567.2,209.5l0.3,-0.9M579.8,229.4l-0.6,1M680.3,281.7l1.4,-0.1M683.1,276.3l0.7,-0.7M632.7,258.4l1,-0.9M588.5,222.6l1.3,-0.3M627,248.3l-1.3,0.6M658.7,282.2l-0.4,-0.7M571,227.9l0.4,-0M632.7,257.4l0.4,-0.9M674.5,274.1l0.5,0.8M630.7,242.7l0,0.8M661.7,254.5l0.1,-0.7M635.5,261.6l-0.4,-0M598.7,244.7l-0.4,0.7M652.2,273.5l1.4,-0.7M611.2,231.2l-1.2,1.1M627.3,242.8l-0.2,0.6M647.3,253.6l-0.1,0.2M642.8,260.1l1,-0.1M575.9,230.1l0.6,0.5M646.8,262.5l-1.3,-0.1M611.5,248.3l-0.2,-0.9M595.5,216.8l0.1,-0.2M684.7,284.1l-0.7,0.1M560.4,216.7l-0.8,-1M570.5,220.6l0,-0.9M592.2,224.8l1,-1.1M571.8,208.8l0.5,0.2M617.2,228.5l0.2,-0.5M608.7,240.3l1.1,-0.5M690.4,283.7l1.4,1.1M581.9,226.4l0.3,-0.7M645.8,265.1l-1.3,-0.7M615.5,236.9l0.5,0.6M635,249.6l-0.9,1.1M688.3,273.3l1.4,-0.1M658.3,267.6l1.2,0.8M600.4,236.3l0.8,0.8M672.1,263.5l-0.9,-0.8M599.1,227.2l-0.3,-1.2M617,237.3l-1.4,0.9M636.7,248.6l-0.7,-0.5M667.4,265.9l0.1,0.8M594.1,239.1l-0.9,0.5M642.9,257.2l1.2,0.7M645.3,262.9l1.2,0.7M618.3,244.7l0.7,-0.4M575.5,215.3l-0,-0.4M663.3,256l-0.7,-0.5M624.5,238.7l0.4,0M570.9,208l-0.2,0.8M671,256l0.2,-1.2M610,226.7l0.3,-1M631.3,237l-0,-0.2M666.1,257.1l-1.1,0.2M676.6,263.1l-0.6,1M669.6,283.9l-0.7,0.2M609.3,229.8l0.7,0.3M620.3,252.9l0.6,1.1M642.3,246.2l0.4,0.1M590.4,237.5l-0.8,0.5M629.5,257.7l-0.5,0.2M686.9,273.4l1.3,-0.6M627.8,237.9l-0.4,0.7M611.8,252.5l1.2,-1M576.3,230.4l0.6,0.2M668.8,277.2l-0.8,1.1M661.5,272.9l0.4,0.8M670.6,286.3l-0.5,0.4M652.2,263.9l-1.1,0.7M571.5,228.5l0.8,-0.1M569.5,225.3l0.5,0.9M613.4,243.6l-1.3,-0.4M654.5,273.9l0.1,0.5M597.8,228.5l0.7,-0.7M602.1,228.5l1,0.3M623,237.3l1.2,1.1M618.9,254.2l1,-0.6M618.4,245.3l1.2,1M672.5,277.1l-0.4,0.8M621.4,240.2l-0.8,0.7M608.8,240.5l0.2,0.9M636.9,243.4l1.4,-0.2M605.6,240.8l-0.9,1.1M637.9,252.1l-0.2,-0.6M600.8,247.6l-0.2,1.2M565.5,217.4l-0.4,0.7M630.7,251.2l-1.3,-1M648.2,265.3l-0.3,1M583.3,219.4l0.9,-0.1M667,256.9l0.4,-0.3M630,260.7l-1.1,-0.4M675.3,273.7l0.6,-0.5M631.7,238.1l0.8,-0.4M661.2,260.5l-0.2,0.6M630.4,257l0.6,-0.7M600.2,234l-1.1,-0.4M656.6,255.2l-0.9,0.6M578.2,211.7l-0.7,0M659.3,265.9l0.2,-0.6M601.5,220.9l-0.2,1M586.9,213.5l-0.4,-0.9M582.5,225.6l0.2,-0.1M662.6,268.5l-0.4,1M664.9,253.8l-0.1,-0.4M683,283.2l-1.3,0.5M625.4,263.1l-0.9,0.3M563.8,227.8l-1.1,-0.8M575.3,222.7l0.7,-0.1M662.6,270.7l0.3,-1M663.8,268.4l-0.5,0.4M653.1,268.8l0.3,-1.2M563.8,215.4l1.4,0.6M586.6,216.2l1.1,0.4M671.6,269.1l-1.3,0.5M624.7,247.4l-1,0M594.1,224.6l-0.1,0.4M627.2,249.3l1.4,-0.7M676.7,266.1l0.6,0.6M580.9,234.1l0.9,0.7M586.6,212.6l0.6,0.6M645.6,273.5l0,0.1M646.7,256.2l-0,0.6M615.7,241.1l-0.2,0.1M607,238.4l-0.2,-0.3M611.5,243.6l0.3,-0.3M676,287.9l-0.6,-0.1M678.5,278.6l-0.7,-0.6M652.3,275l-0.1,-0.3M674.6,280.6l-1.1,0.2M648,245.8l1.1,1M637.6,241.1l-0.7,1M589.1,234l0.2,-0.4M562.9,214.2l0.2,-0.8M579.3,226.7l-0.2,1M580.6,220.4l-1,-0.7M603.1,238.7l0.7,-0.2M622.3,238.8l0.8,1M629.1,264.6l-0.3,-0.5M620.4,250.6l-0.8,-0.8M567.6,226.5l-0.8,0.8M591.8,229.3l-0.6,-0.4M664.8,274.3l0.6,0.9M564.3,217.9l-0.7,0.1M669,256l-0.2,-0.6M690.5,271.1l-0.4,-1.1M571.9,221l0.9,1.1M644.9,264.6l-0.6,-0.5M605.4,219.9l-0.2,1M591.7,217.9l0.4,0.4M581.8,224.9l0,-0.1M650.8,274.8l-0.3,-0.8M576.3,217.9l-0.3,-0.9M610.2,252.8l0.1,-0.2M674.7,286.2l0.7,0.1M664.4,254.8l-1.1,-0.6M601.7,239.8l0.1,-1M653.4,274.9l0.8,0.9M660.9,265.7l-0.4,-0.4M604.1,232l0,0.6M674.3,271.7l0.2,-0.3M569.7,220.6l1.3,-1.1M632.9,251.8l-0.3,0.1M572.2,215.5l0.5,0.3M667,265.6l1.2,-1.1M559.7,224.4l0.8,-0.8M679.6,270.6l-0.3,-0.1M663.7,264.5l-0.5,0.6M654.5,247.2l1,-0.8M564.4,214.1l-1.2,0.2M601.7,226.6l-0.1,-1M680.7,278.8l0.2,-0.1M687.1,268.7l0.9,-1M575,234.2l-1,-0.2M691.1,278.4l1.3,-0.7M649.1,253.7l0.3,-0.5M657.3,265.3l0.6,-0.1M620.8,228.9l-1.3,-0.1M674.1,282.5l1,0.8M602.7,230.6l-0.9,1.1M633.8,235.6l0.2,1M685.8,282.3l-0.7,0.8M577.6,210.1l1.4,0.7M688.9,286.7l0.1,-0.5M656.7,263.5l1,-0.2M638,241.8l-1.4,-1M674.4,282.7l-0.9,-1.2M659.9,257.1l-0.4,-1.2M600.8,246l-0.9,-0.2M640.4,241.3l-0.9,-0.1M602.6,223.1l0.4,0.6M585.7,234.2l1.4,-1M599.5,246.1l0.7,0.3M683.5,263.5l-1.4,-1M641.8,252l-0.7,0.7M628.9,241.1l-0.2,1.2M682.1,286l0.7,0.5" stroke-width="1.25" stroke="#000"/>
<path d="M568,203 Q582,210 594,210.5 Q608,210.5 620,205.5 L667,183" stroke-width="2.2"/>
<path d="M600.5,218 L688,268.5" stroke-width="1"/>
<path d="M622,207.5 L669.5,185.5" stroke-width="1"/>
<path d="M675,292.5 Q688,292.5 690.7,286 Q693.7,278 692.5,271 Q691,266.5 687,265" stroke-width="2.6"/>
<path d="M633.7,266.5 L650,316"/>
<path d="M716.6,141.5 C717,143.7 719.5,149.1 718.8,154.5 C718.1,159.9 715.9,167.8 712.3,173.9 C708.7,180 701.6,185.7 697.3,191.1 C693,196.5 688.3,201.2 686.5,206.2 C684.7,211.2 685.1,215.9 686.5,221.3 C687.9,226.7 692.1,233.8 695.1,238.5 C698.1,243.2 703.2,247.5 704.8,249.3"/>
<path d="M728.5,138.3 C728.7,140.6 730.5,146.4 729.6,152.3 C728.7,158.2 726.3,167.4 723.1,173.9 C719.9,180.4 714.2,185.7 710.2,191.1 C706.2,196.5 701.4,201.5 699.4,206.2 C697.4,210.9 697.6,214.8 698.3,219.1 C699,223.4 701.2,227.9 703.7,232 C706.2,236.1 711.8,241.9 713.4,243.9"/>
<path d="M716.6,141.5 Q721,136.5 728.5,138.3"/>
<ellipse cx="709.1" cy="246.5" rx="5" ry="2.9" transform="rotate(-32 709.1 246.5)" stroke-width="1.9"/>
<path d="M713.9,251.2 L720.4,256.9"/>
<path d="M720.4,256.9 L725.2,256.1 L733.3,262.9 L728.4,269.8 L724,268.6 L719.5,261.3 Z" stroke-width="1.5" fill="#fff"/>
<path d="M723.8,257 L721.8,264.3 M727.3,258.3 L724.5,267 M730.5,260.6 L727,269.3" stroke-width="1.3"/>
<path d="M731.5,266.5 L738.1,266.6 Q742.3,269 742.1,272.6 L739.7,275.8 L733.3,281.5 L728,279.5" stroke-width="1.5"/>
<path d="M733.5,268.5 Q729.5,272 731.5,277.5 M737,267 Q733,271 735,277.8" stroke-width="1.3"/>
<path d="M728.8,271 L721.2,279.5 Q719.3,283 721.2,285.1 Q723.5,286.5 726,284.8 L733.3,280.7" stroke-width="1.5"/>
<path d="M724.8,276 Q727,279 729.5,283" stroke-width="1.3"/>
<path d="M719.5,285.8 L691,307.5"/>
<path d="M805.2,173.2 L803.2,178.4 L807.2,184 L809.2,186.8 L809,221.5 Q815.6,226.8 822.2,221.5 L822,186.8 L823,184 L826.8,178.4 L825,173.2 Z" fill="#fff" stroke-width="1.7"/>
<ellipse cx="815.1" cy="174.4" rx="10.2" ry="5.4" fill="#fff" stroke-width="1.7"/>
<path d="M809.2,179.2 V187.2 H821.6 M820.9,179.2 V187.2" stroke-width="1.4"/>
<path d="M809,194.2 Q815.6,196.6 822.2,194.2" stroke-width="1.3"/>
<path d="M809,198.4 Q815.6,200.8 822.2,198.4" stroke-width="1.3"/>
<path d="M809,202.6 Q815.6,205 822.2,202.6" stroke-width="1.3"/>
<path d="M809,207.2 Q815.6,209.6 822.2,207.2" stroke-width="1.3"/>
<path d="M809,211.8 Q815.6,214.2 822.2,211.8" stroke-width="1.3"/>
<path d="M809,216 Q815.6,218.4 822.2,216" stroke-width="1.3"/>
<path d="M809,219.8 Q815.6,222.2 822.2,219.8" stroke-width="1.3"/>
<path d="M817,226 L817.3,240"/>
<ellipse cx="817.4" cy="243.8" rx="9.9" ry="5.6" stroke-width="1.15"/>
<path d="M827.3,245.8 C827.3,245.9 827.3,246.3 827.2,246.5 C827.2,246.8 827.1,247 827,247.2 C826.9,247.5 826.7,247.7 826.5,247.9 C826.4,248.2 826.2,248.4 826,248.6 C825.8,248.8 825.5,249 825.3,249.2 C825,249.4 824.7,249.6 824.4,249.8 C824.1,249.9 823.8,250.1 823.4,250.2 C823.1,250.4 822.7,250.5 822.4,250.6 C822,250.8 821.6,250.9 821.2,251 C820.8,251.1 820.4,251.1 820,251.2 C819.5,251.3 819.1,251.3 818.7,251.4 C818.3,251.4 817.8,251.4 817.4,251.4 C817,251.4 816.5,251.4 816.1,251.4 C815.7,251.3 815.3,251.3 814.8,251.2 C814.4,251.1 814,251.1 813.6,251 C813.2,250.9 812.8,250.8 812.4,250.6 C812.1,250.5 811.7,250.4 811.4,250.2 C811,250.1 810.7,249.9 810.4,249.8 C810.1,249.6 809.8,249.4 809.5,249.2 C809.3,249 809,248.8 808.8,248.6 C808.6,248.4 808.4,248.2 808.3,247.9 C808.1,247.7 807.9,247.5 807.8,247.2 C807.7,247 807.6,246.8 807.6,246.5 C807.5,246.3 807.5,245.9 807.5,245.8" stroke-width="1.15"/>
<ellipse cx="817.4" cy="243.8" rx="6" ry="2.9" stroke-width="1"/>
<path d="M817.5,250.5 L817.8,262"/>
<ellipse cx="817.4" cy="267.2" rx="11.7" ry="6.5" stroke-width="1.15"/>
<path d="M829.1,268.8 C829.1,268.9 829.1,269.4 829,269.6 C828.9,269.9 828.8,270.2 828.7,270.5 C828.6,270.8 828.4,271 828.2,271.3 C828,271.5 827.8,271.8 827.5,272.1 C827.3,272.3 827,272.5 826.7,272.8 C826.4,273 826,273.2 825.7,273.4 C825.3,273.6 824.9,273.8 824.5,274 C824.1,274.1 823.7,274.3 823.2,274.4 C822.8,274.6 822.3,274.7 821.9,274.8 C821.4,274.9 820.9,275 820.4,275.1 C819.9,275.2 819.4,275.2 818.9,275.2 C818.4,275.3 817.9,275.3 817.4,275.3 C816.9,275.3 816.4,275.3 815.9,275.2 C815.4,275.2 814.9,275.2 814.4,275.1 C813.9,275 813.4,274.9 812.9,274.8 C812.5,274.7 812,274.6 811.5,274.4 C811.1,274.3 810.7,274.1 810.3,274 C809.9,273.8 809.5,273.6 809.1,273.4 C808.8,273.2 808.4,273 808.1,272.8 C807.8,272.5 807.5,272.3 807.3,272.1 C807,271.8 806.8,271.5 806.6,271.3 C806.4,271 806.2,270.8 806.1,270.5 C806,270.2 805.9,269.9 805.8,269.6 C805.7,269.4 805.7,268.9 805.7,268.8" stroke-width="1.15"/>
<ellipse cx="817.4" cy="267.2" rx="6.5" ry="3.1" stroke-width="1"/>
<path d="M818.8,275 L822.4,347"/>
<path d="M797.3,268 C796.8,267.7 795.5,266.2 794.5,266.2 C793.5,266.2 793.5,263.8 791,267.8 C788.5,271.8 779.8,281.7 779.4,290.2 C779,298.7 785.5,308.6 788.7,318.9 C791.9,329.2 797,346.4 798.7,351.9 L821.7,364.8"/>
<path d="M794,268.8 C792.1,272.4 782.9,282.6 782.4,290.7 C781.9,298.8 786.3,307.7 790.9,317.4 C795.5,327.1 807,343.7 810.2,349 L824.6,360.8"/>
<path d="M797.3,268 L801.6,280.1 L821.7,336.1 L821.7,339.5"/>
<path d="M788,287.6 Q786.3,285.5 788,283.5 L793.3,277.5 Q795.3,275.8 796.5,277.6 Q797.5,279.3 796,281 L790.8,287 Q789.3,288.6 788,287.6 Z"/>
<path d="M811.7,346.1 L821.7,339.7 L840.4,351.2 L824.6,361.2 Z"/>
<path d="M840.4,351.2 L840,354.6 L823.1,365 L798.7,351.9"/>
<path d="M789,319.5 L810.5,346.5"/>
<ellipse cx="823.9" cy="349.2" rx="5" ry="2.8" />
<path d="M822.4,368 L824.6,400"/>
<path d="M643.5,48.7 L622,72 M667.7,101.6 L636.3,134.8 M710,123 L664.3,182.2 M750.4,132.4 L727.5,166 M761.1,241.1 L741.3,270.2"/>
<path d="M823.7,201.3 H864 M827.3,245.2 H864 M829,268.5 H867.6 M841,351.2 H877.7"/>
<path d="M63.8,568.8 C63.1,568.3 61.6,566.9 59.8,566.1 C58,565.3 55.1,564.3 53.1,564.1 C51.1,563.9 50.1,564 47.7,564.8 C45.3,565.6 41.8,567.3 38.9,568.8 C36,570.2 32.5,572.4 30.2,573.5 C27.9,574.6 26.6,574.7 24.8,575.6 C23,576.5 20.3,578.4 19.4,578.9" stroke-width="1.25"/>
<path d="M19.4,578.9 C19.1,579.2 17.6,579.9 17.4,580.9 C17.2,581.9 17.5,584.1 18.1,585 C18.7,585.9 20.1,586.2 21,586.3 C21.9,586.4 22.3,586.4 23.5,585.7 C24.7,585 27.4,582.9 28.2,582.3" stroke-width="1.25"/>
<path d="M28.2,582.3 C30,581.7 35.4,580.2 38.9,578.9 C42.4,577.5 46.4,574.8 49,574.2 C51.6,573.7 53.3,574.8 54.4,575.6 C55.5,576.4 55.5,578.4 55.7,578.9" stroke-width="1.25"/>
<path d="M27.5,574.5 C27.9,575.1 29.5,576.7 29.6,578 C29.7,579.3 28.4,581.6 28.2,582.3" stroke-width="1.25"/>
<path d="M37.6,569.5 C38,570.2 39.8,571.9 40,573.5 C40.2,575.1 39.2,578 39,578.9" stroke-width="1.25"/>
<ellipse cx="20.2" cy="582.6" rx="2.2" ry="3.2" transform="rotate(-20 20.2 582.6)" stroke-width="1"/>
<path d="M50.4,598.4 C50.5,596.8 50.1,592.6 51,589 C51.9,585.4 53.6,580.3 55.7,576.9 C57.8,573.5 60.6,571 63.8,568.8 C66.9,566.6 71.2,564.5 74.6,563.5 C78,562.5 81.5,562.5 84,562.8 C86.5,563.1 88.5,565 89.4,565.5 L106.9,580.3" stroke-width="1.25"/>
<path d="M63.1,608.5 L77.9,620" stroke-width="1.25"/>
<path d="M60.5,620 C60.5,618.4 60.2,613.2 60.5,610.5 C60.8,607.8 60.9,605.8 62.5,603.8 C64.1,601.8 68.5,600.2 69.9,598.4 C71.4,596.6 71.8,594.7 71.2,593.1 C70.6,591.5 69.3,588.8 66.5,589 C63.7,589.2 57,591.9 54.4,594.4 C51.8,596.9 51.8,600.7 51,603.8 C50.2,606.9 50,610.5 49.7,613.2 C49.4,615.9 49.1,618.9 49,620" fill="#fff" stroke-width="1.25"/>
<path d="M48.8,620.5 H60.7 M49,623.3 H60.5 M48.3,629.4 H59.3 M48.8,632 H58.8" stroke-width="1.7"/>
<path d="M49,620 L48.3,629.4 L50.4,637.4 Q53.4,640.5 56.4,637.4 L59.1,629.4 L60.5,620" stroke-width="1.25"/>
<path d="M106.9,580.3 C104.7,581.8 97.5,585.1 93.4,589 C89.4,592.9 85.1,599.5 82.6,603.8 C80.1,608.1 79,611 78.6,614.6 C78.2,618.2 78.9,622.6 80,625.3 C81.1,628 84.4,629.8 85.3,630.7" stroke-width="1.25"/>
<path d="M112.2,581.6 C109.8,583.4 101.8,588.4 97.5,592.5 C93.2,596.6 89.1,602.4 86.7,606.5 C84.3,610.6 83.5,613.7 83.3,617.3 C83.1,620.9 84.1,625.3 85.3,628 C86.5,630.7 89.8,632.5 90.7,633.4" stroke-width="1.25"/>
<path d="M117.6,583 C114.9,584.9 106,590 101.5,594.4 C97,598.8 93,604.9 90.7,609.2 C88.5,613.5 88,616.4 88,620 C88,623.6 89.4,628 90.7,630.7 C92,633.4 95.2,635.2 96.1,636.1" stroke-width="1.25"/>
<path d="M106.9,580.3 C107.8,580.5 110,580.8 112.2,581.3 C114.4,581.8 117.6,581.9 120.3,583.6 C123,585.3 125.9,589 128.4,591.7 C130.9,594.4 133.3,597.5 135.1,599.8 C136.9,602 137.6,603.4 139.2,605.2 C140.8,607 143.2,608 144.5,610.5 C145.8,613 146.8,618.4 147.2,620" stroke-width="1.25"/>
<path d="M85.3,630.7 C86.2,631.2 88.9,632.5 90.7,633.4 C92.5,634.3 93.4,634.8 96.1,636.1 C98.8,637.5 104.2,640.1 106.9,641.5 C109.6,642.9 110.4,643.3 112.2,644.2 C114,645.1 116,646.1 117.6,646.9 C119.2,647.7 119.5,649.3 121.7,648.9 C124,648.5 128.5,645.7 131.1,644.2 C133.7,642.7 136,640.7 137,640" stroke-width="1.25"/>
<path d="M127,594.4 C124.3,596 115.2,600 110.9,603.8 C106.7,607.6 103.5,613 101.5,617.3 C99.5,621.6 98.6,625.8 98.8,629.4 C99,633 101.4,636.8 102.8,638.8 C104.2,640.8 106.2,641 106.9,641.5" stroke-width="1.25"/>
<path d="M135.1,599.8 C132.2,601.8 121.8,607.6 117.6,611.9 C113.3,616.1 111.2,621.3 109.6,625.3 C108,629.3 107.8,633 108.2,636.1 C108.6,639.2 111.5,642.9 112.2,644.2" stroke-width="1.25"/>
<path d="M139.2,605.2 C136.9,606.8 129.5,610.8 125.7,614.6 C121.9,618.4 118.1,624.2 116.3,628 C114.5,631.8 114.9,634.7 114.9,637.4 C114.9,640.1 115.5,642.4 116.3,644.2 C117.1,646 119,647.5 119.6,648.2" stroke-width="1.25"/>
<path d="M131.1,622 L145.9,629.4 M125.7,634.8 L140.5,644.8" stroke-width="1.25"/>
<path d="M131.1,622 C130.3,622.6 127.6,624.2 126.5,625.5 C125.4,626.8 124.7,628.5 124.6,630 C124.5,631.5 125.5,634 125.7,634.8" stroke-width="1.25"/>
<ellipse cx="144.3" cy="637" rx="5.4" ry="8.3" transform="rotate(-22 144.3 637)" stroke-width="1.25"/>
<path d="M76.6,620 V654 M52.9,640.5 L51.9,657"/>
<path d="M43.3,662.3 v4.6 q7,5.5 14,0 v-4.6" stroke-width="1.4" fill="#fff"/>
<ellipse cx="50.3" cy="662.3" rx="7" ry="3.7" stroke-width="1.4" fill="#222"/>
<ellipse cx="51.1" cy="662.8" rx="3.1" ry="1.5" stroke="none" fill="#fff"/>
<path d="M50.3,670.3 v6.5"/>
<path d="M70,658.6 v4.6 q7,5.5 14,0 v-4.6" stroke-width="1.4" fill="#fff"/>
<ellipse cx="77" cy="658.6" rx="7" ry="3.7" stroke-width="1.4" fill="#222"/>
<ellipse cx="77.8" cy="659.1" rx="3.1" ry="1.5" stroke="none" fill="#fff"/>
<path d="M77,666.6 v6.5"/>
<path d="M44.4,680 V709 M54.3,680 V714.6" stroke-width="1.2"/>
<ellipse cx="49.3" cy="680" rx="4.9" ry="2.4" stroke-width="1.2"/>
<path d="M71,679 V714.6 M80.9,679 V714.6" stroke-width="1.2"/>
<ellipse cx="76" cy="679" rx="5" ry="2.4" stroke-width="1.2"/>
<path d="M114.4,691.9 L57.2,664.3 M114.4,691.9 L83.9,662.3"/>
<path d="M157.9,573.5 L129.2,592.3"/>
<path d="M169.3,637.2 L195.4,626 L198.1,627.6 L204,638.8 L210.4,655.9 L199.7,684.6 L172,696.4 L167.7,694.2 L156,669.7 Z" fill="#fff" stroke-width="1.2"/>
<path d="M169.3,637.2 L174.1,640.9 L198.1,630.3 L198.1,627.6 M174.1,640.9 L160.3,670.8 L172,695.3 M156,669.7 L160.3,670.8"/>
<ellipse cx="185.6" cy="663.5" rx="18.6" ry="25.9" transform="rotate(17 185.6 663.5)" stroke-width="1.2"/>
<path d="M195.7,643.2 C196,643.5 196.8,644.3 197.3,644.9 C197.8,645.5 198.2,646.1 198.7,646.8 C199.1,647.5 199.5,648.2 199.8,649 C200.2,649.7 200.5,650.5 200.7,651.4 C201,652.2 201.2,653.1 201.4,654 C201.6,654.8 201.7,655.8 201.8,656.7 C201.9,657.6 201.9,658.6 201.9,659.5 C201.9,660.5 201.9,661.5 201.8,662.5 C201.7,663.4 201.6,664.4 201.4,665.4 C201.2,666.4 201,667.4 200.7,668.3 C200.5,669.3 200.1,670.3 199.8,671.2 C199.5,672.1 199.1,673.1 198.6,674 C198.2,674.9 197.8,675.7 197.3,676.6 C196.8,677.4 196.2,678.3 195.7,679 C195.1,679.8 194.5,680.5 193.9,681.2 C193.3,681.9 192.7,682.6 192,683.2 C191.4,683.8 190.7,684.4 190,684.9 C189.3,685.4 188.6,685.9 187.9,686.3 C187.1,686.7 186.4,687 185.7,687.3 C184.9,687.6 184.2,687.9 183.4,688.1 C182.7,688.2 182,688.4 181.2,688.4 C180.5,688.5 179.8,688.5 179,688.4 C178.3,688.4 177.6,688.3 176.9,688.1 C176.2,687.9 175.2,687.5 174.9,687.4" stroke-width="1"/>
<path d="M195.5,647 C195.7,647.3 196.2,648.1 196.6,648.7 C196.9,649.3 197.2,649.9 197.5,650.6 C197.8,651.3 198,651.9 198.2,652.7 C198.4,653.4 198.6,654.1 198.8,654.8 C198.9,655.6 199.1,656.4 199.1,657.1 C199.2,657.9 199.3,658.7 199.3,659.5 C199.3,660.3 199.3,661.2 199.3,662 C199.2,662.8 199.1,663.6 199,664.5 C198.9,665.3 198.8,666.1 198.6,667 C198.4,667.8 198.2,668.6 198,669.4 C197.7,670.2 197.4,671 197.1,671.8 C196.8,672.6 196.5,673.4 196.2,674.2 C195.8,674.9 195.4,675.7 195,676.4 C194.6,677.1 194.2,677.8 193.7,678.5 C193.2,679.1 192.8,679.8 192.3,680.4 C191.8,681 191.2,681.6 190.7,682.2 C190.2,682.7 189.6,683.2 189,683.7 C188.5,684.2 187.9,684.6 187.3,685.1 C186.7,685.5 186.1,685.8 185.5,686.2 C184.9,686.5 184.3,686.8 183.7,687 C183,687.3 182.4,687.5 181.8,687.6 C181.2,687.8 180.5,687.9 179.9,688 C179.3,688.1 178.7,688.1 178.1,688.1 C177.5,688.1 176.6,687.9 176.3,687.9" stroke-width="0.9"/>
<path d="M147,643 L161.3,650 M176.3,656.9 L217.8,678.2" stroke-width="0.9"/>
<path d="M204.1,636.4 L234.7,617.6"/>
<path d="M250.3,655.1 C246.5,655.1 242.3,655.3 237.7,658.2 C233.1,661.1 226.6,666.7 222.6,672.7 C218.6,678.7 215.3,687.8 213.8,694.1 C212.3,700.4 212.5,705.6 213.8,710.4 C215.1,715.2 218.5,719.6 221.4,723 C224.3,726.4 228.1,728.8 231.4,730.6 C234.8,732.4 237.9,733.8 241.5,733.7 C245.1,733.6 248.8,732.5 252.8,729.9 C256.8,727.3 261.6,722.9 265.4,718 C269.2,713.1 273.1,706.1 275.5,700.4 C277.9,694.7 279.5,688.6 279.9,684 C280.3,679.4 279.4,676 278,672.7 C276.6,669.5 274.6,666.9 271.7,664.5 C268.8,662.1 264,659.8 260.4,658.2 C256.8,656.6 254.1,655.1 250.3,655.1Z" fill="#fff" stroke-width="1.2"/>
<path d="M264,662 C261.3,663.1 252.6,665.4 247.8,668.9 C243,672.4 238.4,677.5 235.2,682.8 C231.9,688 229.5,694.9 228.3,700.4 C227.2,705.9 227.6,710.9 228.3,715.5 C229,720.1 231,725.1 232.7,728 C234.4,730.9 237.5,732.2 238.5,733" stroke-width="1.1"/>
<path d="M250.3,677.7 C252.3,674.6 257.3,674.4 260.4,674 C263.4,673.6 266.7,674.4 268.6,675.2 C270.5,676 271.3,675.4 271.7,679 C272.1,682.6 271.7,690.7 271.1,696.6 C270.5,702.5 269.5,709.8 267.9,714.2 C266.3,718.6 263.9,721.3 261.6,723 C259.3,724.7 256.3,724.7 254.1,724.3 C251.9,723.9 249.6,722.8 248.4,720.5 C247.2,718.2 247.2,715 247.2,710.4 C247.2,705.8 247.9,698.2 248.4,692.8 C248.9,687.3 248.3,680.8 250.3,677.7Z" stroke-width="1.1"/>
<path d="M259.1,681.5 C258.7,684.6 257.2,694.7 256.6,700.4 C256,706.1 255.3,711.9 255.3,715.5 C255.3,719.1 256.4,720.8 256.6,721.8 M259.1,681.5 L270.6,678.8" stroke-width="1.1"/>
<ellipse cx="262.3" cy="702.3" rx="2.8" ry="4.6" transform="rotate(12 262.3 702.3)" />
<path d="M265.4,703.5 L274.2,706.7 M281.8,710.4 L291.8,715.5"/>
<path d="M274.2,665.8 L304.4,649.4"/>
<path d="M294.3,711.6 L315.5,720.8 M292.2,716.6 L313.6,726 M294.3,711.6 Q290.8,713.5 292.2,716.6" stroke-width="1.3"/>
<path d="M297,712.8 l-1.9,5.2 M300,714.1 l-1.9,5.2 M303,715.4 l-1.9,5.2 M306,716.7 l-1.9,5.2 M309,718 l-1.9,5.2 M312,719.3 l-1.9,5.2" stroke-width="1.5"/>
<path d="M315.5,720.8 L318.5,721.3 M313.6,726 L315,730" stroke-width="1.3"/>
<path d="M318.5,721.3 C318.1,721.9 316.4,723.5 315.8,725 C315.2,726.5 314.8,728.6 315,730 C315.2,731.4 316.2,732.7 317,733.5 C317.8,734.3 319.5,734.6 320,734.8" stroke-width="1.4"/>
<ellipse cx="321.6" cy="728.2" rx="4.6" ry="6.6" transform="rotate(-22 321.6 728.2)" stroke-width="1.4"/>
<path d="M319.6,726.3 l4.2,4 M323.6,726.2 l-3.6,4.2" stroke-width="0.9"/>
<path d="M318.6,722.2 L358,699.5"/>
<path d="M429.8,731 L430.4,748 M485.6,728.5 L487,752"/>
<path d="M426.3,772.5 V751.1 Q431,747.8 435.7,751.1 V772.5" stroke-width="1.2"/>
<path d="M424.8,772.5 L437.2,772.5 L440.2,777.3 L440.2,781.3 L436.7,786.1 L425.3,786.1 L421.8,781.3 L421.8,777.3 Z" stroke-width="1.5" fill="#fff"/>
<path d="M422.8,776.3 h16.4 M427,776.3 V786.1 M435.5,776.3 V786.1" stroke-width="1"/>
<path d="M425.4,786.1 L427.4,798.9 M436.6,786.1 L434.9,798.9" stroke-width="1.2"/>
<path d="M427.2,798.9 V811.8 h7.8 V798.9" stroke-width="1.3"/>
<path d="M427.2,798.9 h7.8" stroke-width="1.2"/>
<path d="M427.2,802.1 h7.8" stroke-width="1.2"/>
<path d="M427.2,805.3 h7.8" stroke-width="1.2"/>
<path d="M427.2,808.6 h7.8" stroke-width="1.2"/>
<path d="M484,791.2 V755 Q488.7,751.7 493.4,755 V791.2" stroke-width="1.2"/>
<path d="M482.5,791.2 L494.9,791.2 L497.9,795.5 L497.9,799.5 L494.4,803.9 L483,803.9 L479.5,799.5 L479.5,795.5 Z" stroke-width="1.5" fill="#fff"/>
<path d="M480.5,794.5 h16.4 M484.7,794.5 V803.9 M493.2,794.5 V803.9" stroke-width="1"/>
<path d="M483.1,803.9 L485.1,818.7 M494.3,803.9 L492.6,818.7" stroke-width="1.2"/>
<path d="M484.9,818.7 V832.5 h7.8 V818.7" stroke-width="1.3"/>
<path d="M484.9,818.7 h7.8" stroke-width="1.2"/>
<path d="M484.9,822.2 h7.8" stroke-width="1.2"/>
<path d="M484.9,825.6 h7.8" stroke-width="1.2"/>
<path d="M484.9,829 h7.8" stroke-width="1.2"/>
<path d="M424.6,824 L431.8,891.7 M439.3,824.6 L449.5,890.7" stroke-width="1.1" stroke-dasharray="40 3 22 3 100"/>
<ellipse cx="431.9" cy="823.4" rx="7.4" ry="4.8" stroke-width="1.4" fill="#fff"/>
<path d="M424.5,823.4 V836 Q432,842 439.4,836 V823.4" stroke-width="1.3"/>
<path d="M439.2,828.8 C439.2,828.9 439.1,829.1 439,829.3 C438.9,829.5 438.8,829.7 438.7,829.8 C438.6,830 438.5,830.1 438.3,830.3 C438.2,830.5 438,830.6 437.8,830.7 C437.7,830.9 437.5,831 437.3,831.2 C437.1,831.3 436.9,831.4 436.7,831.5 C436.4,831.6 436.2,831.7 436,831.8 C435.7,831.9 435.5,832 435.2,832.1 C435,832.2 434.7,832.3 434.4,832.3 C434.2,832.4 433.9,832.4 433.6,832.5 C433.3,832.5 433,832.5 432.8,832.6 C432.5,832.6 432.2,832.6 431.9,832.6 C431.6,832.6 431.3,832.6 431,832.6 C430.8,832.5 430.5,832.5 430.2,832.5 C429.9,832.4 429.6,832.4 429.4,832.3 C429.1,832.3 428.8,832.2 428.6,832.1 C428.3,832 428.1,831.9 427.8,831.8 C427.6,831.7 427.4,831.6 427.1,831.5 C426.9,831.4 426.7,831.3 426.5,831.2 C426.3,831 426.1,830.9 426,830.7 C425.8,830.6 425.6,830.5 425.5,830.3 C425.3,830.1 425.2,830 425.1,829.8 C425,829.7 424.9,829.5 424.8,829.3 C424.7,829.1 424.6,828.9 424.6,828.8" stroke-width="1"/>
<path d="M439.5,827.8 h4.4 v9.4 h-4" stroke-width="1.1"/>
<path d="M483.6,844.3 L487.6,887.7 M498.4,844.3 L501.8,887.7" stroke-width="1.1" stroke-dasharray="34 3 100"/>
<ellipse cx="491" cy="843.2" rx="7.6" ry="4.8" stroke-width="1.4" fill="#fff"/>
<path d="M483.4,843.2 V854.5 Q491,860 498.6,854.5 V843.2" stroke-width="1.3"/>
<path d="M498.5,848.3 C498.5,848.4 498.4,848.6 498.3,848.8 C498.2,849 498.1,849.2 498,849.3 C497.9,849.5 497.7,849.6 497.6,849.8 C497.4,850 497.3,850.1 497.1,850.2 C496.9,850.4 496.7,850.5 496.5,850.7 C496.3,850.8 496.1,850.9 495.9,851 C495.7,851.1 495.4,851.2 495.2,851.3 C494.9,851.4 494.7,851.5 494.4,851.6 C494.1,851.7 493.9,851.8 493.6,851.8 C493.3,851.9 493,851.9 492.8,852 C492.5,852 492.2,852 491.9,852.1 C491.6,852.1 491.3,852.1 491,852.1 C490.7,852.1 490.4,852.1 490.1,852.1 C489.8,852 489.5,852 489.2,852 C489,851.9 488.7,851.9 488.4,851.8 C488.1,851.8 487.9,851.7 487.6,851.6 C487.3,851.5 487.1,851.4 486.8,851.3 C486.6,851.2 486.3,851.1 486.1,851 C485.9,850.9 485.7,850.8 485.5,850.7 C485.3,850.5 485.1,850.4 484.9,850.2 C484.7,850.1 484.6,850 484.4,849.8 C484.3,849.6 484.1,849.5 484,849.3 C483.9,849.2 483.8,849 483.7,848.8 C483.6,848.6 483.5,848.4 483.5,848.3" stroke-width="1"/>
<path d="M498.7,848.6 h4.4 v7.8 h-4" stroke-width="1.1"/>
<path d="M392.3,795.6 L425.8,794 M496.9,803.9 H526.5"/>
<path d="M399.2,850.2 L424.8,836.4 M399.2,850.2 L484,848.3"/>
<path d="M407.1,894.6 L428.8,872.9 M407.1,894.6 L486,880.8"/>
</g>
<g fill="#000" stroke="#000" stroke-width="0.35" font-size="18.8" text-anchor="middle">
<text transform="translate(651 46) scale(0.95 1)">1</text>
<text transform="translate(677.6 94.4) scale(0.95 1)">2</text>
<text transform="translate(718 119.8) scale(0.95 1)">3</text>
<text transform="translate(758.9 122.5) scale(0.95 1)">4</text>
<text transform="translate(770 237.1) scale(0.95 1)">5</text>
<text transform="translate(877.9 209.3) scale(0.95 1)">6</text>
<text transform="translate(878 251.5) scale(0.95 1)">7</text>
<text transform="translate(883 274.4) scale(0.95 1)">8</text>
<text transform="translate(892.7 358.3) scale(0.95 1)">9</text>
<text transform="translate(896.6 647.9) scale(0.86 1)">10</text>
<text transform="translate(867 824.3) scale(0.86 1)">11</text>
<text transform="translate(544.5 808.8) scale(0.86 1)">12</text>
<text transform="translate(395.7 909) scale(0.86 1)">13</text>
<text transform="translate(386.4 860.1) scale(0.86 1)">14</text>
<text transform="translate(128.7 710.7) scale(0.86 1)">14</text>
<text transform="translate(378.8 801.9) scale(0.86 1)">15</text>
<text transform="translate(373.7 701.3) scale(0.86 1)">16</text>
<text transform="translate(320.5 651.2) scale(0.86 1)">17</text>
<text transform="translate(250 618.6) scale(0.86 1)">18</text>
<text transform="translate(177.6 572.6) scale(0.86 1)">19</text>
<text transform="translate(349 494) scale(0.86 1)">20</text>
</g>
<g transform="translate(175.7 813.4) rotate(-39.6)" style="mix-blend-mode:multiply" font-size="68.5" stroke-linejoin="miter" stroke-miterlimit="3">
<text transform="translate(2.9 0) scale(1.168 1)" fill="#c4c4c4" stroke="#c4c4c4" stroke-width="4.3">w</text>
<text transform="translate(70.9 0) scale(1.168 1)" fill="#c4c4c4" stroke="#c4c4c4" stroke-width="4.3">w</text>
<text transform="translate(138.8 0) scale(1.168 1)" fill="#c4c4c4" stroke="#c4c4c4" stroke-width="4.3">w</text>
<text transform="translate(204.4 0) scale(1.209 1)" fill="#c4c4c4" stroke="#c4c4c4" stroke-width="4.3">.</text>
<text transform="translate(228.6 0) scale(1.093 1)" fill="#c4c4c4" stroke="#c4c4c4" stroke-width="4.3">p</text>
<text transform="translate(277.7 0) scale(1.061 1)" fill="#c4c4c4" stroke="#c4c4c4" stroke-width="4.3">o</text>
<text transform="translate(324.1 0) scale(1.244 1)" fill="#c4c4c4" stroke="#c4c4c4" stroke-width="4.3">l</text>
<text transform="translate(350.4 0) scale(1.074 1)" fill="#c4c4c4" stroke="#c4c4c4" stroke-width="4.3">a</text>
<text transform="translate(396.5 0) scale(1.122 1)" fill="#c4c4c4" stroke="#c4c4c4" stroke-width="4.3">r</text>
<text transform="translate(428.1 0) scale(1.244 1)" fill="#c4c4c4" stroke="#c4c4c4" stroke-width="4.3">i</text>
<text transform="translate(453.4 0) scale(1.086 1)" fill="#c4c4c4" stroke="#c4c4c4" stroke-width="4.3">s</text>
<text transform="translate(497.4 0) scale(1.170 1)" fill="#c4c4c4" stroke="#c4c4c4" stroke-width="4.3">e</text>
<text transform="translate(544.5 0) scale(1.122 1)" fill="#c4c4c4" stroke="#c4c4c4" stroke-width="4.3">r</text>
<text transform="translate(577.4 0) scale(1.086 1)" fill="#c4c4c4" stroke="#c4c4c4" stroke-width="4.3">s</text>
<text transform="translate(622.4 0) scale(1.074 1)" fill="#c4c4c4" stroke="#c4c4c4" stroke-width="4.3">a</text>
<text transform="translate(670 0) scale(1.189 1)" fill="#c4c4c4" stroke="#c4c4c4" stroke-width="4.3">t</text>
<text transform="translate(700.4 0) scale(1.127 1)" fill="#c4c4c4" stroke="#c4c4c4" stroke-width="4.3">z</text>
<text transform="translate(742 0) scale(1.189 1)" fill="#c4c4c4" stroke="#c4c4c4" stroke-width="4.3">t</text>
<text transform="translate(773.4 0) scale(1.170 1)" fill="#c4c4c4" stroke="#c4c4c4" stroke-width="4.3">e</text>
<text transform="translate(820 0) scale(1.244 1)" fill="#c4c4c4" stroke="#c4c4c4" stroke-width="4.3">i</text>
<text transform="translate(844 0) scale(1.244 1)" fill="#c4c4c4" stroke="#c4c4c4" stroke-width="4.3">l</text>
<text transform="translate(869.3 0) scale(1.170 1)" fill="#c4c4c4" stroke="#c4c4c4" stroke-width="4.3">e</text>
<text transform="translate(916.4 0) scale(1.209 1)" fill="#c4c4c4" stroke="#c4c4c4" stroke-width="4.3">.</text>
<text transform="translate(941.4 0) scale(1.093 1)" fill="#c4c4c4" stroke="#c4c4c4" stroke-width="4.3">d</text>
<text transform="translate(989.4 0) scale(1.170 1)" fill="#c4c4c4" stroke="#c4c4c4" stroke-width="4.3">e</text>
<text transform="translate(2.9 0) scale(1.168 1)" fill="#dfdfdf" stroke="#dfdfdf" stroke-width="2">w</text>
<text transform="translate(70.9 0) scale(1.168 1)" fill="#dfdfdf" stroke="#dfdfdf" stroke-width="2">w</text>
<text transform="translate(138.8 0) scale(1.168 1)" fill="#dfdfdf" stroke="#dfdfdf" stroke-width="2">w</text>
<text transform="translate(204.4 0) scale(1.209 1)" fill="#dfdfdf" stroke="#dfdfdf" stroke-width="2">.</text>
<text transform="translate(228.6 0) scale(1.093 1)" fill="#dfdfdf" stroke="#dfdfdf" stroke-width="2">p</text>
<text transform="translate(277.7 0) scale(1.061 1)" fill="#dfdfdf" stroke="#dfdfdf" stroke-width="2">o</text>
<text transform="translate(324.1 0) scale(1.244 1)" fill="#dfdfdf" stroke="#dfdfdf" stroke-width="2">l</text>
<text transform="translate(350.4 0) scale(1.074 1)" fill="#dfdfdf" stroke="#dfdfdf" stroke-width="2">a</text>
<text transform="translate(396.5 0) scale(1.122 1)" fill="#dfdfdf" stroke="#dfdfdf" stroke-width="2">r</text>
<text transform="translate(428.1 0) scale(1.244 1)" fill="#dfdfdf" stroke="#dfdfdf" stroke-width="2">i</text>
<text transform="translate(453.4 0) scale(1.086 1)" fill="#dfdfdf" stroke="#dfdfdf" stroke-width="2">s</text>
<text transform="translate(497.4 0) scale(1.170 1)" fill="#dfdfdf" stroke="#dfdfdf" stroke-width="2">e</text>
<text transform="translate(544.5 0) scale(1.122 1)" fill="#dfdfdf" stroke="#dfdfdf" stroke-width="2">r</text>
<text transform="translate(577.4 0) scale(1.086 1)" fill="#dfdfdf" stroke="#dfdfdf" stroke-width="2">s</text>
<text transform="translate(622.4 0) scale(1.074 1)" fill="#dfdfdf" stroke="#dfdfdf" stroke-width="2">a</text>
<text transform="translate(670 0) scale(1.189 1)" fill="#dfdfdf" stroke="#dfdfdf" stroke-width="2">t</text>
<text transform="translate(700.4 0) scale(1.127 1)" fill="#dfdfdf" stroke="#dfdfdf" stroke-width="2">z</text>
<text transform="translate(742 0) scale(1.189 1)" fill="#dfdfdf" stroke="#dfdfdf" stroke-width="2">t</text>
<text transform="translate(773.4 0) scale(1.170 1)" fill="#dfdfdf" stroke="#dfdfdf" stroke-width="2">e</text>
<text transform="translate(820 0) scale(1.244 1)" fill="#dfdfdf" stroke="#dfdfdf" stroke-width="2">i</text>
<text transform="translate(844 0) scale(1.244 1)" fill="#dfdfdf" stroke="#dfdfdf" stroke-width="2">l</text>
<text transform="translate(869.3 0) scale(1.170 1)" fill="#dfdfdf" stroke="#dfdfdf" stroke-width="2">e</text>
<text transform="translate(916.4 0) scale(1.209 1)" fill="#dfdfdf" stroke="#dfdfdf" stroke-width="2">.</text>
<text transform="translate(941.4 0) scale(1.093 1)" fill="#dfdfdf" stroke="#dfdfdf" stroke-width="2">d</text>
<text transform="translate(989.4 0) scale(1.170 1)" fill="#dfdfdf" stroke="#dfdfdf" stroke-width="2">e</text>
</g>
</svg>
</body></html>
